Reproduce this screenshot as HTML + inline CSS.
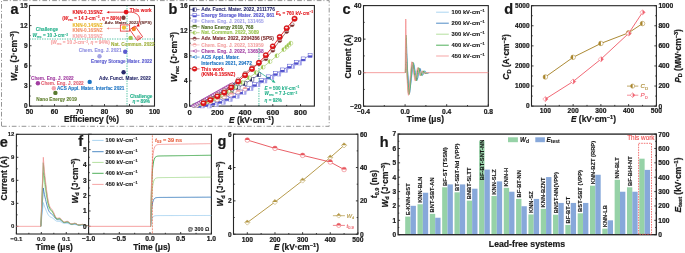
<!DOCTYPE html>
<html><head><meta charset="utf-8"><style>
html,body{margin:0;padding:0;background:#fff;width:685px;height:253px;overflow:hidden}
svg{display:block;will-change:transform}
text{font-family:"Liberation Sans",sans-serif}
</style></head><body>
<svg xmlns="http://www.w3.org/2000/svg" width="685" height="253" viewBox="0 0 685 253" font-family="Liberation Sans, sans-serif">
<rect width="685" height="253" fill="#ffffff"/>
<polyline points="1.5,126.3 1.5,0.6 329.2,0.6 329.2,126.3 1.5,126.3" fill="none" stroke="#7a7a7a" stroke-width="0.8" stroke-linejoin="round" stroke-dasharray="4.7 1.9 1 2.2"/>
<text x="10.6" y="13.6" font-size="14.5" text-anchor="start" font-weight="bold" fill="#1a1a1a" stroke="#1a1a1a" stroke-width="0.22">a</text>
<text x="168.5" y="14.2" font-size="14.5" text-anchor="start" font-weight="bold" fill="#1a1a1a" stroke="#1a1a1a" stroke-width="0.22">b</text>
<text x="342.6" y="14.1" font-size="14.5" text-anchor="start" font-weight="bold" fill="#1a1a1a" stroke="#1a1a1a" stroke-width="0.22">c</text>
<text x="504.3" y="14.1" font-size="14.5" text-anchor="start" font-weight="bold" fill="#1a1a1a" stroke="#1a1a1a" stroke-width="0.22">d</text>
<text x="-0.3" y="147.2" font-size="14.5" text-anchor="start" font-weight="bold" fill="#1a1a1a" stroke="#1a1a1a" stroke-width="0.22">e</text>
<text x="78.2" y="145.8" font-size="14.5" text-anchor="start" font-weight="bold" fill="#1a1a1a" stroke="#1a1a1a" stroke-width="0.22">f</text>
<text x="217.6" y="145.8" font-size="14.5" text-anchor="start" font-weight="bold" fill="#1a1a1a" stroke="#1a1a1a" stroke-width="0.22">g</text>
<text x="379.8" y="146.8" font-size="14.5" text-anchor="start" font-weight="bold" fill="#1a1a1a" stroke="#1a1a1a" stroke-width="0.22">h</text>
<line x1="29.5" y1="39.03" x2="154.5" y2="39.03" stroke="#22b08a" stroke-width="0.75" stroke-dasharray="1.4 1.1"/>
<line x1="127" y1="5.5" x2="127" y2="106.1" stroke="#22b08a" stroke-width="0.75" stroke-dasharray="1.4 1.1"/>
<rect x="29.5" y="5.5" width="125" height="100.6" fill="none" stroke="#262626" stroke-width="1.1"/>
<line x1="29.5" y1="106.1" x2="29.5" y2="104.1" stroke="#262626" stroke-width="0.9"/>
<line x1="54.5" y1="106.1" x2="54.5" y2="104.1" stroke="#262626" stroke-width="0.9"/>
<line x1="79.5" y1="106.1" x2="79.5" y2="104.1" stroke="#262626" stroke-width="0.9"/>
<line x1="104.5" y1="106.1" x2="104.5" y2="104.1" stroke="#262626" stroke-width="0.9"/>
<line x1="129.5" y1="106.1" x2="129.5" y2="104.1" stroke="#262626" stroke-width="0.9"/>
<line x1="154.5" y1="106.1" x2="154.5" y2="104.1" stroke="#262626" stroke-width="0.9"/>
<line x1="42" y1="106.1" x2="42" y2="104.9" stroke="#262626" stroke-width="0.9"/>
<line x1="67" y1="106.1" x2="67" y2="104.9" stroke="#262626" stroke-width="0.9"/>
<line x1="92" y1="106.1" x2="92" y2="104.9" stroke="#262626" stroke-width="0.9"/>
<line x1="117" y1="106.1" x2="117" y2="104.9" stroke="#262626" stroke-width="0.9"/>
<line x1="142" y1="106.1" x2="142" y2="104.9" stroke="#262626" stroke-width="0.9"/>
<text x="29.5" y="113.5" font-size="6.7" text-anchor="middle" font-weight="bold" fill="#1a1a1a" stroke="#1a1a1a" stroke-width="0.22">50</text>
<text x="54.5" y="113.5" font-size="6.7" text-anchor="middle" font-weight="bold" fill="#1a1a1a" stroke="#1a1a1a" stroke-width="0.22">60</text>
<text x="79.5" y="113.5" font-size="6.7" text-anchor="middle" font-weight="bold" fill="#1a1a1a" stroke="#1a1a1a" stroke-width="0.22">70</text>
<text x="104.5" y="113.5" font-size="6.7" text-anchor="middle" font-weight="bold" fill="#1a1a1a" stroke="#1a1a1a" stroke-width="0.22">80</text>
<text x="129.5" y="113.5" font-size="6.7" text-anchor="middle" font-weight="bold" fill="#1a1a1a" stroke="#1a1a1a" stroke-width="0.22">90</text>
<text x="154.5" y="113.5" font-size="6.7" text-anchor="middle" font-weight="bold" fill="#1a1a1a" stroke="#1a1a1a" stroke-width="0.22">100</text>
<line x1="29.5" y1="106.1" x2="31.5" y2="106.1" stroke="#262626" stroke-width="0.9"/>
<line x1="29.5" y1="85.98" x2="31.5" y2="85.98" stroke="#262626" stroke-width="0.9"/>
<line x1="29.5" y1="65.86" x2="31.5" y2="65.86" stroke="#262626" stroke-width="0.9"/>
<line x1="29.5" y1="45.74" x2="31.5" y2="45.74" stroke="#262626" stroke-width="0.9"/>
<line x1="29.5" y1="25.62" x2="31.5" y2="25.62" stroke="#262626" stroke-width="0.9"/>
<line x1="29.5" y1="5.5" x2="31.5" y2="5.5" stroke="#262626" stroke-width="0.9"/>
<line x1="29.5" y1="96.04" x2="30.7" y2="96.04" stroke="#262626" stroke-width="0.9"/>
<line x1="29.5" y1="75.92" x2="30.7" y2="75.92" stroke="#262626" stroke-width="0.9"/>
<line x1="29.5" y1="55.8" x2="30.7" y2="55.8" stroke="#262626" stroke-width="0.9"/>
<line x1="29.5" y1="35.68" x2="30.7" y2="35.68" stroke="#262626" stroke-width="0.9"/>
<line x1="29.5" y1="15.56" x2="30.7" y2="15.56" stroke="#262626" stroke-width="0.9"/>
<text x="27.5" y="108.44" font-size="6.5" text-anchor="end" font-weight="bold" fill="#1a1a1a" stroke="#1a1a1a" stroke-width="0.22">0</text>
<text x="27.5" y="88.32" font-size="6.5" text-anchor="end" font-weight="bold" fill="#1a1a1a" stroke="#1a1a1a" stroke-width="0.22">3</text>
<text x="27.5" y="68.2" font-size="6.5" text-anchor="end" font-weight="bold" fill="#1a1a1a" stroke="#1a1a1a" stroke-width="0.22">6</text>
<text x="27.5" y="48.08" font-size="6.5" text-anchor="end" font-weight="bold" fill="#1a1a1a" stroke="#1a1a1a" stroke-width="0.22">9</text>
<text x="27.5" y="27.96" font-size="6.5" text-anchor="end" font-weight="bold" fill="#1a1a1a" stroke="#1a1a1a" stroke-width="0.22">12</text>
<text x="27.5" y="7.84" font-size="6.5" text-anchor="end" font-weight="bold" fill="#1a1a1a" stroke="#1a1a1a" stroke-width="0.22">15</text>
<text x="91.5" y="121.7" font-size="8.4" text-anchor="middle" font-weight="bold" fill="#1a1a1a" stroke="#1a1a1a" stroke-width="0.22">Efficiency (%)</text>
<text x="16.5" y="56" font-size="8.4" font-weight="bold" fill="#1a1a1a" text-anchor="middle" transform="rotate(-90 16.5 56)" stroke="#1a1a1a" stroke-width="0.22"><tspan font-style="italic">W</tspan><tspan font-size="5.6" dy="1.6">rec</tspan><tspan dy="-1.6"> (J·cm</tspan><tspan font-size="5.6" dy="-3">−3</tspan><tspan dy="3">)</tspan></text>
<circle cx="126.1" cy="12.1" r="2.4" fill="#e3161b" stroke="none" stroke-width="0.5"/>
<circle cx="123.5" cy="17.8" r="2.2" fill="#7b3f3a" stroke="none" stroke-width="0.5"/>
<circle cx="124" cy="27.6" r="2.2" fill="#f1c232" stroke="none" stroke-width="0.5"/>
<circle cx="133.8" cy="29" r="2.2" fill="#f5841f" stroke="none" stroke-width="0.5"/>
<circle cx="130.6" cy="37.9" r="2.2" fill="#9bc54f" stroke="none" stroke-width="0.5"/>
<circle cx="138.6" cy="37.4" r="2.2" fill="#f4a4a4" stroke="none" stroke-width="0.5"/>
<circle cx="125.2" cy="51.8" r="2.2" fill="#5b5bd0" stroke="none" stroke-width="0.5"/>
<circle cx="99.5" cy="56.3" r="2.2" fill="#a3a3e6" stroke="none" stroke-width="0.5"/>
<circle cx="123.6" cy="72.2" r="2.2" fill="#27296b" stroke="none" stroke-width="0.5"/>
<circle cx="89.7" cy="81.9" r="2.2" fill="#1a72c2" stroke="none" stroke-width="0.5"/>
<circle cx="37.9" cy="83.2" r="2.2" fill="#a23ea2" stroke="none" stroke-width="0.5"/>
<circle cx="53.8" cy="88.2" r="2.2" fill="#f4a3ad" stroke="none" stroke-width="0.5"/>
<circle cx="55.4" cy="92.9" r="2.2" fill="#587a2f" stroke="none" stroke-width="0.5"/>
<rect x="120.3" y="24.9" width="9.4" height="6.2" fill="none" stroke="#e3161b" stroke-width="0.7"/>
<rect x="-3.2" y="-6.6" width="6.4" height="13.2" fill="none" stroke="#e3161b" stroke-width="0.7" transform="translate(136.2 33.2) rotate(-35)"/>
<path d="M127.5 12.2 C 140 11, 142 20, 137.5 25.5" fill="none" stroke="#e3161b" stroke-width="0.8"/>
<path d="M136 26.5 L138.9 23.6 L139.6 26.6 Z" fill="#e3161b"/>
<line x1="124" y1="12.2" x2="108.5" y2="12.2" stroke="#e3161b" stroke-width="0.7"/>
<path d="M106.5 12.2 L109.2 10.9 L109.2 13.5 Z" fill="#e3161b"/>
<line x1="120.3" y1="28.4" x2="108.5" y2="28.4" stroke="#f08a8a" stroke-width="0.6"/>
<path d="M106.5 28.4 L109 27.3 L109 29.5 Z" fill="#f08a8a"/>
<text x="129.8" y="11.6" font-size="4.7" text-anchor="start" font-weight="bold" fill="#e3161b" stroke="#e3161b" stroke-width="0.08">This work</text>
<text x="72.4" y="13.9" font-size="4.7" text-anchor="start" font-weight="bold" fill="#e3161b" stroke="#e3161b" stroke-width="0.08">KNN-0.15SNZ</text>
<text x="62.2" y="19.6" font-size="4.7" font-weight="bold" fill="#e3161b" stroke="#e3161b" stroke-width="0.08">(<tspan font-style="italic">W</tspan><tspan font-size="3.2" dy="1">rec</tspan><tspan dy="-1"> = 14 J·cm</tspan><tspan font-size="3.2" dy="-1.7">−3</tspan><tspan dy="1.7">, </tspan><tspan font-style="italic">η</tspan> = 89%)</text>
<text x="104.6" y="24.3" font-size="4.4" text-anchor="start" font-weight="bold" fill="#6b2e2a" stroke="#6b2e2a" stroke-width="0.08">Adv. Mater. 2022 (SPS)</text>
<text x="72.4" y="26.9" font-size="4.7" text-anchor="start" font-weight="bold" fill="#e8b72c" stroke="#e8b72c" stroke-width="0.08">KNN-0.14SNZ</text>
<text x="72.4" y="32.3" font-size="4.7" text-anchor="start" font-weight="bold" fill="#f3906a" stroke="#f3906a" stroke-width="0.08">KNN-0.16SNZ</text>
<text x="72.4" y="37.7" font-size="4.7" text-anchor="start" font-weight="bold" fill="#f4a9a9" stroke="#f4a9a9" stroke-width="0.08">KNN-0.18SNZ</text>
<text x="47" y="31.2" font-size="4.7" text-anchor="middle" font-weight="bold" fill="#22b08a" stroke="#22b08a" stroke-width="0.08">Challenge</text>
<text x="32.4" y="37.3" font-size="4.7" font-weight="bold" fill="#22b08a" stroke="#22b08a" stroke-width="0.08"><tspan font-style="italic">W</tspan><tspan font-size="3.2" dy="1">rec</tspan><tspan dy="-1"> = 10 J·cm</tspan><tspan font-size="3.2" dy="-1.7">−3</tspan></text>
<text x="50.7" y="44.3" font-size="4.7" font-weight="bold" fill="#f6a0a0" stroke="#f6a0a0" stroke-width="0.08">(<tspan font-style="italic">W</tspan><tspan font-size="3.2" dy="1">rec</tspan><tspan dy="-1"> = 10 J·cm</tspan><tspan font-size="3.2" dy="-1.7">−3</tspan><tspan dy="1.7">, </tspan><tspan font-style="italic">η</tspan> = 94%)</text>
<text x="111" y="46" font-size="4.7" text-anchor="start" font-weight="bold" fill="#9fb03a" stroke="#9fb03a" stroke-width="0.08">Nat. Commun. 2022</text>
<text x="78.8" y="52.2" font-size="4.7" text-anchor="start" font-weight="bold" fill="#8e8ee0" stroke="#8e8ee0" stroke-width="0.08">Chem. Eng. J. 2021</text>
<text x="91" y="62.5" font-size="4.7" text-anchor="start" font-weight="bold" fill="#5b5bd0" stroke="#5b5bd0" stroke-width="0.08">Energy Storage Mater. 2022</text>
<text x="99" y="79.8" font-size="4.7" text-anchor="start" font-weight="bold" fill="#27296b" stroke="#27296b" stroke-width="0.08">Adv. Funct. Mater. 2022</text>
<text x="31" y="79.8" font-size="4.7" text-anchor="start" font-weight="bold" fill="#a23ea2" stroke="#a23ea2" stroke-width="0.08">Chem. Eng. J. 2022</text>
<text x="41" y="84.6" font-size="4.7" text-anchor="start" font-weight="bold" fill="#e26070" stroke="#e26070" stroke-width="0.08">Chem. Eng. J. 2022</text>
<text x="56.9" y="89.8" font-size="4.7" text-anchor="start" font-weight="bold" fill="#1a72c2" stroke="#1a72c2" stroke-width="0.08">ACS Appl. Mater. Interfac 2021</text>
<text x="36.3" y="100.8" font-size="4.7" text-anchor="start" font-weight="bold" fill="#5e7f2c" stroke="#5e7f2c" stroke-width="0.08">Nano Energy 2019</text>
<text x="141.2" y="97.5" font-size="4.7" text-anchor="middle" font-weight="bold" fill="#22b08a" stroke="#22b08a" stroke-width="0.08">Challenge</text>
<text x="141.2" y="102.8" font-size="4.7" font-weight="bold" fill="#22b08a" text-anchor="middle" stroke="#22b08a" stroke-width="0.08"><tspan font-style="italic">η</tspan> = 89%</text>
<rect x="189.6" y="5.5" width="124.8" height="100.6" fill="none" stroke="#262626" stroke-width="1.1"/>
<line x1="189.6" y1="106.1" x2="189.6" y2="104.1" stroke="#262626" stroke-width="0.9"/>
<line x1="217.33" y1="106.1" x2="217.33" y2="104.1" stroke="#262626" stroke-width="0.9"/>
<line x1="245.07" y1="106.1" x2="245.07" y2="104.1" stroke="#262626" stroke-width="0.9"/>
<line x1="272.8" y1="106.1" x2="272.8" y2="104.1" stroke="#262626" stroke-width="0.9"/>
<line x1="300.53" y1="106.1" x2="300.53" y2="104.1" stroke="#262626" stroke-width="0.9"/>
<line x1="203.47" y1="106.1" x2="203.47" y2="104.9" stroke="#262626" stroke-width="0.9"/>
<line x1="231.2" y1="106.1" x2="231.2" y2="104.9" stroke="#262626" stroke-width="0.9"/>
<line x1="258.93" y1="106.1" x2="258.93" y2="104.9" stroke="#262626" stroke-width="0.9"/>
<line x1="286.67" y1="106.1" x2="286.67" y2="104.9" stroke="#262626" stroke-width="0.9"/>
<text x="189.6" y="115.1" font-size="7.7" text-anchor="middle" font-weight="bold" fill="#1a1a1a" stroke="#1a1a1a" stroke-width="0.22">0</text>
<text x="217.33" y="115.1" font-size="7.7" text-anchor="middle" font-weight="bold" fill="#1a1a1a" stroke="#1a1a1a" stroke-width="0.22">200</text>
<text x="245.07" y="115.1" font-size="7.7" text-anchor="middle" font-weight="bold" fill="#1a1a1a" stroke="#1a1a1a" stroke-width="0.22">400</text>
<text x="272.8" y="115.1" font-size="7.7" text-anchor="middle" font-weight="bold" fill="#1a1a1a" stroke="#1a1a1a" stroke-width="0.22">600</text>
<text x="300.53" y="115.1" font-size="7.7" text-anchor="middle" font-weight="bold" fill="#1a1a1a" stroke="#1a1a1a" stroke-width="0.22">800</text>
<line x1="189.6" y1="106.1" x2="191.6" y2="106.1" stroke="#262626" stroke-width="0.9"/>
<line x1="189.6" y1="80.95" x2="191.6" y2="80.95" stroke="#262626" stroke-width="0.9"/>
<line x1="189.6" y1="55.8" x2="191.6" y2="55.8" stroke="#262626" stroke-width="0.9"/>
<line x1="189.6" y1="30.65" x2="191.6" y2="30.65" stroke="#262626" stroke-width="0.9"/>
<line x1="189.6" y1="5.5" x2="191.6" y2="5.5" stroke="#262626" stroke-width="0.9"/>
<line x1="189.6" y1="93.52" x2="190.8" y2="93.52" stroke="#262626" stroke-width="0.9"/>
<line x1="189.6" y1="68.38" x2="190.8" y2="68.38" stroke="#262626" stroke-width="0.9"/>
<line x1="189.6" y1="43.22" x2="190.8" y2="43.22" stroke="#262626" stroke-width="0.9"/>
<line x1="189.6" y1="18.08" x2="190.8" y2="18.08" stroke="#262626" stroke-width="0.9"/>
<text x="187.6" y="108.44" font-size="6.5" text-anchor="end" font-weight="bold" fill="#1a1a1a" stroke="#1a1a1a" stroke-width="0.22">0</text>
<text x="187.6" y="83.29" font-size="6.5" text-anchor="end" font-weight="bold" fill="#1a1a1a" stroke="#1a1a1a" stroke-width="0.22">4</text>
<text x="187.6" y="58.14" font-size="6.5" text-anchor="end" font-weight="bold" fill="#1a1a1a" stroke="#1a1a1a" stroke-width="0.22">8</text>
<text x="187.6" y="32.99" font-size="6.5" text-anchor="end" font-weight="bold" fill="#1a1a1a" stroke="#1a1a1a" stroke-width="0.22">12</text>
<text x="187.6" y="7.84" font-size="6.5" text-anchor="end" font-weight="bold" fill="#1a1a1a" stroke="#1a1a1a" stroke-width="0.22">16</text>
<text x="251.5" y="122.6" font-size="8.4" font-weight="bold" fill="#1a1a1a" text-anchor="middle" stroke="#1a1a1a" stroke-width="0.22"><tspan font-style="italic">E</tspan> (kV·cm<tspan font-size="5.6" dy="-3">−1</tspan><tspan dy="3">)</tspan></text>
<text x="177.3" y="57" font-size="8.4" font-weight="bold" fill="#1a1a1a" text-anchor="middle" transform="rotate(-90 177.3 57)" stroke="#1a1a1a" stroke-width="0.22"><tspan font-style="italic">W</tspan><tspan font-size="5.6" dy="1.6">rec</tspan><tspan dy="-1.6"> (J·cm</tspan><tspan font-size="5.6" dy="-3">−3</tspan><tspan dy="3">)</tspan></text>
<line x1="258.93" y1="48" x2="258.93" y2="106.1" stroke="#22b08a" stroke-width="0.8" stroke-dasharray="1.4 1.1"/>
<polyline points="196.53,105.11 203.47,103.29 210.4,100.93 217.33,98.15 224.27,94.99 231.2,91.49 238.13,87.69 245.07,83.61 252,79.26 258.93,74.66" fill="none" stroke="#27296b" stroke-width="0.6" stroke-linejoin="round"/>
<rect x="194.63" y="103.21" width="3.8" height="3.8" fill="#ffffff" stroke="#27296b" stroke-width="0.5"/>
<rect x="194.63" y="103.21" width="1.9" height="3.8" fill="#27296b" stroke="none" stroke-width="0.8"/>
<rect x="201.57" y="101.39" width="3.8" height="3.8" fill="#ffffff" stroke="#27296b" stroke-width="0.5"/>
<rect x="201.57" y="101.39" width="1.9" height="3.8" fill="#27296b" stroke="none" stroke-width="0.8"/>
<rect x="208.5" y="99.03" width="3.8" height="3.8" fill="#ffffff" stroke="#27296b" stroke-width="0.5"/>
<rect x="208.5" y="99.03" width="1.9" height="3.8" fill="#27296b" stroke="none" stroke-width="0.8"/>
<rect x="215.43" y="96.25" width="3.8" height="3.8" fill="#ffffff" stroke="#27296b" stroke-width="0.5"/>
<rect x="215.43" y="96.25" width="1.9" height="3.8" fill="#27296b" stroke="none" stroke-width="0.8"/>
<rect x="222.37" y="93.09" width="3.8" height="3.8" fill="#ffffff" stroke="#27296b" stroke-width="0.5"/>
<rect x="222.37" y="93.09" width="1.9" height="3.8" fill="#27296b" stroke="none" stroke-width="0.8"/>
<rect x="229.3" y="89.59" width="3.8" height="3.8" fill="#ffffff" stroke="#27296b" stroke-width="0.5"/>
<rect x="229.3" y="89.59" width="1.9" height="3.8" fill="#27296b" stroke="none" stroke-width="0.8"/>
<rect x="236.23" y="85.79" width="3.8" height="3.8" fill="#ffffff" stroke="#27296b" stroke-width="0.5"/>
<rect x="236.23" y="85.79" width="1.9" height="3.8" fill="#27296b" stroke="none" stroke-width="0.8"/>
<rect x="243.17" y="81.71" width="3.8" height="3.8" fill="#ffffff" stroke="#27296b" stroke-width="0.5"/>
<rect x="243.17" y="81.71" width="1.9" height="3.8" fill="#27296b" stroke="none" stroke-width="0.8"/>
<rect x="250.1" y="77.36" width="3.8" height="3.8" fill="#ffffff" stroke="#27296b" stroke-width="0.5"/>
<rect x="250.1" y="77.36" width="1.9" height="3.8" fill="#27296b" stroke="none" stroke-width="0.8"/>
<rect x="257.03" y="72.76" width="3.8" height="3.8" fill="#ffffff" stroke="#27296b" stroke-width="0.5"/>
<rect x="257.03" y="72.76" width="1.9" height="3.8" fill="#27296b" stroke="none" stroke-width="0.8"/>
<polyline points="202.63,106.1 209.57,106.1 216.5,104.59 223.43,102.39 230.37,99.66 237.3,96.35 244.23,92.58 251.17,88.81 258.1,84.88 265.03,81.11 271.97,77.65 278.9,74.19 285.83,70.58 292.77,66.8 299.7,63.19" fill="none" stroke="#a3a3ea" stroke-width="0.6" stroke-linejoin="round"/>
<rect x="200.73" y="104.2" width="3.8" height="3.8" fill="#ffffff" stroke="#a3a3ea" stroke-width="0.5"/>
<rect x="202.63" y="104.2" width="1.9" height="3.8" fill="#a3a3ea" stroke="none" stroke-width="0.8"/>
<rect x="207.67" y="104.2" width="3.8" height="3.8" fill="#ffffff" stroke="#a3a3ea" stroke-width="0.5"/>
<rect x="209.57" y="104.2" width="1.9" height="3.8" fill="#a3a3ea" stroke="none" stroke-width="0.8"/>
<rect x="214.6" y="102.69" width="3.8" height="3.8" fill="#ffffff" stroke="#a3a3ea" stroke-width="0.5"/>
<rect x="216.5" y="102.69" width="1.9" height="3.8" fill="#a3a3ea" stroke="none" stroke-width="0.8"/>
<rect x="221.53" y="100.49" width="3.8" height="3.8" fill="#ffffff" stroke="#a3a3ea" stroke-width="0.5"/>
<rect x="223.43" y="100.49" width="1.9" height="3.8" fill="#a3a3ea" stroke="none" stroke-width="0.8"/>
<rect x="228.47" y="97.76" width="3.8" height="3.8" fill="#ffffff" stroke="#a3a3ea" stroke-width="0.5"/>
<rect x="230.37" y="97.76" width="1.9" height="3.8" fill="#a3a3ea" stroke="none" stroke-width="0.8"/>
<rect x="235.4" y="94.45" width="3.8" height="3.8" fill="#ffffff" stroke="#a3a3ea" stroke-width="0.5"/>
<rect x="237.3" y="94.45" width="1.9" height="3.8" fill="#a3a3ea" stroke="none" stroke-width="0.8"/>
<rect x="242.33" y="90.68" width="3.8" height="3.8" fill="#ffffff" stroke="#a3a3ea" stroke-width="0.5"/>
<rect x="244.23" y="90.68" width="1.9" height="3.8" fill="#a3a3ea" stroke="none" stroke-width="0.8"/>
<rect x="249.27" y="86.91" width="3.8" height="3.8" fill="#ffffff" stroke="#a3a3ea" stroke-width="0.5"/>
<rect x="251.17" y="86.91" width="1.9" height="3.8" fill="#a3a3ea" stroke="none" stroke-width="0.8"/>
<rect x="256.2" y="82.98" width="3.8" height="3.8" fill="#ffffff" stroke="#a3a3ea" stroke-width="0.5"/>
<rect x="258.1" y="82.98" width="1.9" height="3.8" fill="#a3a3ea" stroke="none" stroke-width="0.8"/>
<rect x="263.13" y="79.21" width="3.8" height="3.8" fill="#ffffff" stroke="#a3a3ea" stroke-width="0.5"/>
<rect x="265.03" y="79.21" width="1.9" height="3.8" fill="#a3a3ea" stroke="none" stroke-width="0.8"/>
<rect x="270.07" y="75.75" width="3.8" height="3.8" fill="#ffffff" stroke="#a3a3ea" stroke-width="0.5"/>
<rect x="271.97" y="75.75" width="1.9" height="3.8" fill="#a3a3ea" stroke="none" stroke-width="0.8"/>
<rect x="277" y="72.29" width="3.8" height="3.8" fill="#ffffff" stroke="#a3a3ea" stroke-width="0.5"/>
<rect x="278.9" y="72.29" width="1.9" height="3.8" fill="#a3a3ea" stroke="none" stroke-width="0.8"/>
<rect x="283.93" y="68.68" width="3.8" height="3.8" fill="#ffffff" stroke="#a3a3ea" stroke-width="0.5"/>
<rect x="285.83" y="68.68" width="1.9" height="3.8" fill="#a3a3ea" stroke="none" stroke-width="0.8"/>
<rect x="290.87" y="64.9" width="3.8" height="3.8" fill="#ffffff" stroke="#a3a3ea" stroke-width="0.5"/>
<rect x="292.77" y="64.9" width="1.9" height="3.8" fill="#a3a3ea" stroke="none" stroke-width="0.8"/>
<rect x="297.8" y="61.29" width="3.8" height="3.8" fill="#ffffff" stroke="#a3a3ea" stroke-width="0.5"/>
<rect x="299.7" y="61.29" width="1.9" height="3.8" fill="#a3a3ea" stroke="none" stroke-width="0.8"/>
<polyline points="199.17,105.47 206.1,104.34 213.03,102.96 219.97,101.2 226.9,98.55 233.83,95.73 240.77,91.95 247.7,88.18 254.63,84.41 261.57,80.32 268.5,76.86 275.43,73.41 282.37,69.95 289.3,66.17 296.23,62.4 303.17,58.94 310.1,55.36" fill="none" stroke="#5050cc" stroke-width="0.6" stroke-linejoin="round"/>
<rect x="197.17" y="103.47" width="4" height="4" fill="#ffffff" stroke="#5050cc" stroke-width="0.5"/>
<rect x="197.17" y="105.47" width="4" height="2" fill="#5050cc" stroke="none" stroke-width="0.8"/>
<rect x="204.1" y="102.34" width="4" height="4" fill="#ffffff" stroke="#5050cc" stroke-width="0.5"/>
<rect x="204.1" y="104.34" width="4" height="2" fill="#5050cc" stroke="none" stroke-width="0.8"/>
<rect x="211.03" y="100.96" width="4" height="4" fill="#ffffff" stroke="#5050cc" stroke-width="0.5"/>
<rect x="211.03" y="102.96" width="4" height="2" fill="#5050cc" stroke="none" stroke-width="0.8"/>
<rect x="217.97" y="99.2" width="4" height="4" fill="#ffffff" stroke="#5050cc" stroke-width="0.5"/>
<rect x="217.97" y="101.2" width="4" height="2" fill="#5050cc" stroke="none" stroke-width="0.8"/>
<rect x="224.9" y="96.55" width="4" height="4" fill="#ffffff" stroke="#5050cc" stroke-width="0.5"/>
<rect x="224.9" y="98.55" width="4" height="2" fill="#5050cc" stroke="none" stroke-width="0.8"/>
<rect x="231.83" y="93.73" width="4" height="4" fill="#ffffff" stroke="#5050cc" stroke-width="0.5"/>
<rect x="231.83" y="95.73" width="4" height="2" fill="#5050cc" stroke="none" stroke-width="0.8"/>
<rect x="238.77" y="89.95" width="4" height="4" fill="#ffffff" stroke="#5050cc" stroke-width="0.5"/>
<rect x="238.77" y="91.95" width="4" height="2" fill="#5050cc" stroke="none" stroke-width="0.8"/>
<rect x="245.7" y="86.18" width="4" height="4" fill="#ffffff" stroke="#5050cc" stroke-width="0.5"/>
<rect x="245.7" y="88.18" width="4" height="2" fill="#5050cc" stroke="none" stroke-width="0.8"/>
<rect x="252.63" y="82.41" width="4" height="4" fill="#ffffff" stroke="#5050cc" stroke-width="0.5"/>
<rect x="252.63" y="84.41" width="4" height="2" fill="#5050cc" stroke="none" stroke-width="0.8"/>
<rect x="259.57" y="78.32" width="4" height="4" fill="#ffffff" stroke="#5050cc" stroke-width="0.5"/>
<rect x="259.57" y="80.32" width="4" height="2" fill="#5050cc" stroke="none" stroke-width="0.8"/>
<rect x="266.5" y="74.86" width="4" height="4" fill="#ffffff" stroke="#5050cc" stroke-width="0.5"/>
<rect x="266.5" y="76.86" width="4" height="2" fill="#5050cc" stroke="none" stroke-width="0.8"/>
<rect x="273.43" y="71.41" width="4" height="4" fill="#ffffff" stroke="#5050cc" stroke-width="0.5"/>
<rect x="273.43" y="73.41" width="4" height="2" fill="#5050cc" stroke="none" stroke-width="0.8"/>
<rect x="280.37" y="67.95" width="4" height="4" fill="#ffffff" stroke="#5050cc" stroke-width="0.5"/>
<rect x="280.37" y="69.95" width="4" height="2" fill="#5050cc" stroke="none" stroke-width="0.8"/>
<rect x="287.3" y="64.17" width="4" height="4" fill="#ffffff" stroke="#5050cc" stroke-width="0.5"/>
<rect x="287.3" y="66.17" width="4" height="2" fill="#5050cc" stroke="none" stroke-width="0.8"/>
<rect x="294.23" y="60.4" width="4" height="4" fill="#ffffff" stroke="#5050cc" stroke-width="0.5"/>
<rect x="294.23" y="62.4" width="4" height="2" fill="#5050cc" stroke="none" stroke-width="0.8"/>
<rect x="301.17" y="56.94" width="4" height="4" fill="#ffffff" stroke="#5050cc" stroke-width="0.5"/>
<rect x="301.17" y="58.94" width="4" height="2" fill="#5050cc" stroke="none" stroke-width="0.8"/>
<rect x="308.1" y="53.36" width="4" height="4" fill="#ffffff" stroke="#5050cc" stroke-width="0.5"/>
<rect x="308.1" y="55.36" width="4" height="2" fill="#5050cc" stroke="none" stroke-width="0.8"/>
<polyline points="196.53,105.24 203.47,103.68 210.4,101.65 217.33,99.26 224.27,96.53 231.2,93.52" fill="none" stroke="#4d6b22" stroke-width="0.6" stroke-linejoin="round"/>
<rect x="194.83" y="103.54" width="3.4" height="3.4" fill="#ffffff" stroke="#4d6b22" stroke-width="0.5"/>
<rect x="194.83" y="103.54" width="3.4" height="1.7" fill="#4d6b22" stroke="none" stroke-width="0.8"/>
<rect x="201.77" y="101.98" width="3.4" height="3.4" fill="#ffffff" stroke="#4d6b22" stroke-width="0.5"/>
<rect x="201.77" y="101.98" width="3.4" height="1.7" fill="#4d6b22" stroke="none" stroke-width="0.8"/>
<rect x="208.7" y="99.95" width="3.4" height="3.4" fill="#ffffff" stroke="#4d6b22" stroke-width="0.5"/>
<rect x="208.7" y="99.95" width="3.4" height="1.7" fill="#4d6b22" stroke="none" stroke-width="0.8"/>
<rect x="215.63" y="97.56" width="3.4" height="3.4" fill="#ffffff" stroke="#4d6b22" stroke-width="0.5"/>
<rect x="215.63" y="97.56" width="3.4" height="1.7" fill="#4d6b22" stroke="none" stroke-width="0.8"/>
<rect x="222.57" y="94.83" width="3.4" height="3.4" fill="#ffffff" stroke="#4d6b22" stroke-width="0.5"/>
<rect x="222.57" y="94.83" width="3.4" height="1.7" fill="#4d6b22" stroke="none" stroke-width="0.8"/>
<rect x="229.5" y="91.82" width="3.4" height="3.4" fill="#ffffff" stroke="#4d6b22" stroke-width="0.5"/>
<rect x="229.5" y="91.82" width="3.4" height="1.7" fill="#4d6b22" stroke="none" stroke-width="0.8"/>
<polyline points="196.53,105.35 203.47,103.9 210.4,101.82 217.33,99.56 224.27,96.73 231.2,94.53 238.13,91.76 245.07,89" fill="none" stroke="#f3a3a3" stroke-width="0.6" stroke-linejoin="round"/>
<circle cx="196.53" cy="105.35" r="2.1" fill="#ffffff" stroke="#f3a3a3" stroke-width="0.5"/>
<path d="M194.43 105.35 A2.1 2.1 0 0 1 198.63 105.35 Z" fill="#f3a3a3"/>
<circle cx="203.47" cy="103.9" r="2.1" fill="#ffffff" stroke="#f3a3a3" stroke-width="0.5"/>
<path d="M201.37 103.9 A2.1 2.1 0 0 1 205.57 103.9 Z" fill="#f3a3a3"/>
<circle cx="210.4" cy="101.82" r="2.1" fill="#ffffff" stroke="#f3a3a3" stroke-width="0.5"/>
<path d="M208.3 101.82 A2.1 2.1 0 0 1 212.5 101.82 Z" fill="#f3a3a3"/>
<circle cx="217.33" cy="99.56" r="2.1" fill="#ffffff" stroke="#f3a3a3" stroke-width="0.5"/>
<path d="M215.23 99.56 A2.1 2.1 0 0 1 219.43 99.56 Z" fill="#f3a3a3"/>
<circle cx="224.27" cy="96.73" r="2.1" fill="#ffffff" stroke="#f3a3a3" stroke-width="0.5"/>
<path d="M222.17 96.73 A2.1 2.1 0 0 1 226.37 96.73 Z" fill="#f3a3a3"/>
<circle cx="231.2" cy="94.53" r="2.1" fill="#ffffff" stroke="#f3a3a3" stroke-width="0.5"/>
<path d="M229.1 94.53 A2.1 2.1 0 0 1 233.3 94.53 Z" fill="#f3a3a3"/>
<circle cx="238.13" cy="91.76" r="2.1" fill="#ffffff" stroke="#f3a3a3" stroke-width="0.5"/>
<path d="M236.03 91.76 A2.1 2.1 0 0 1 240.23 91.76 Z" fill="#f3a3a3"/>
<circle cx="245.07" cy="89" r="2.1" fill="#ffffff" stroke="#f3a3a3" stroke-width="0.5"/>
<path d="M242.97 89 A2.1 2.1 0 0 1 247.17 89 Z" fill="#f3a3a3"/>
<polyline points="193.76,105.58 200.69,103.82 207.63,101.37 214.56,98.4 221.49,94.98 228.43,91.16 235.36,86.99 242.29,82.49 249.23,77.68 256.16,72.58 263.09,67.2 270.03,61.57 276.96,55.69 283.89,49.57 286.67,47.06 288.75,45.15 290.83,43.22" fill="none" stroke="#9bc54f" stroke-width="0.6" stroke-linejoin="round"/>
<circle cx="193.76" cy="105.58" r="2.0" fill="#ffffff" stroke="#9bc54f" stroke-width="0.5"/>
<path d="M193.76 103.58 A2.0 2.0 0 0 0 193.76 107.58 Z" fill="#9bc54f"/>
<circle cx="200.69" cy="103.82" r="2.0" fill="#ffffff" stroke="#9bc54f" stroke-width="0.5"/>
<path d="M200.69 101.82 A2.0 2.0 0 0 0 200.69 105.82 Z" fill="#9bc54f"/>
<circle cx="207.63" cy="101.37" r="2.0" fill="#ffffff" stroke="#9bc54f" stroke-width="0.5"/>
<path d="M207.63 99.37 A2.0 2.0 0 0 0 207.63 103.37 Z" fill="#9bc54f"/>
<circle cx="214.56" cy="98.4" r="2.0" fill="#ffffff" stroke="#9bc54f" stroke-width="0.5"/>
<path d="M214.56 96.4 A2.0 2.0 0 0 0 214.56 100.4 Z" fill="#9bc54f"/>
<circle cx="221.49" cy="94.98" r="2.0" fill="#ffffff" stroke="#9bc54f" stroke-width="0.5"/>
<path d="M221.49 92.98 A2.0 2.0 0 0 0 221.49 96.98 Z" fill="#9bc54f"/>
<circle cx="228.43" cy="91.16" r="2.0" fill="#ffffff" stroke="#9bc54f" stroke-width="0.5"/>
<path d="M228.43 89.16 A2.0 2.0 0 0 0 228.43 93.16 Z" fill="#9bc54f"/>
<circle cx="235.36" cy="86.99" r="2.0" fill="#ffffff" stroke="#9bc54f" stroke-width="0.5"/>
<path d="M235.36 84.99 A2.0 2.0 0 0 0 235.36 88.99 Z" fill="#9bc54f"/>
<circle cx="242.29" cy="82.49" r="2.0" fill="#ffffff" stroke="#9bc54f" stroke-width="0.5"/>
<path d="M242.29 80.49 A2.0 2.0 0 0 0 242.29 84.49 Z" fill="#9bc54f"/>
<circle cx="249.23" cy="77.68" r="2.0" fill="#ffffff" stroke="#9bc54f" stroke-width="0.5"/>
<path d="M249.23 75.68 A2.0 2.0 0 0 0 249.23 79.68 Z" fill="#9bc54f"/>
<circle cx="256.16" cy="72.58" r="2.0" fill="#ffffff" stroke="#9bc54f" stroke-width="0.5"/>
<path d="M256.16 70.58 A2.0 2.0 0 0 0 256.16 74.58 Z" fill="#9bc54f"/>
<circle cx="263.09" cy="67.2" r="2.0" fill="#ffffff" stroke="#9bc54f" stroke-width="0.5"/>
<path d="M263.09 65.2 A2.0 2.0 0 0 0 263.09 69.2 Z" fill="#9bc54f"/>
<circle cx="270.03" cy="61.57" r="2.0" fill="#ffffff" stroke="#9bc54f" stroke-width="0.5"/>
<path d="M270.03 59.57 A2.0 2.0 0 0 0 270.03 63.57 Z" fill="#9bc54f"/>
<circle cx="276.96" cy="55.69" r="2.0" fill="#ffffff" stroke="#9bc54f" stroke-width="0.5"/>
<path d="M276.96 53.69 A2.0 2.0 0 0 0 276.96 57.69 Z" fill="#9bc54f"/>
<circle cx="283.89" cy="49.57" r="2.0" fill="#ffffff" stroke="#9bc54f" stroke-width="0.5"/>
<path d="M283.89 47.57 A2.0 2.0 0 0 0 283.89 51.57 Z" fill="#9bc54f"/>
<circle cx="286.67" cy="47.06" r="2.0" fill="#ffffff" stroke="#9bc54f" stroke-width="0.5"/>
<path d="M286.67 45.06 A2.0 2.0 0 0 0 286.67 49.06 Z" fill="#9bc54f"/>
<circle cx="288.75" cy="45.15" r="2.0" fill="#ffffff" stroke="#9bc54f" stroke-width="0.5"/>
<path d="M288.75 43.15 A2.0 2.0 0 0 0 288.75 47.15 Z" fill="#9bc54f"/>
<circle cx="290.83" cy="43.22" r="2.0" fill="#ffffff" stroke="#9bc54f" stroke-width="0.5"/>
<path d="M290.83 41.22 A2.0 2.0 0 0 0 290.83 45.22 Z" fill="#9bc54f"/>
<polyline points="192.37,105.74 194.87,104.45 197.37,103.15 199.86,101.86 202.36,100.57 204.85,99.27 207.35,97.98 209.85,96.69 212.34,95.39 214.84,94.1 217.33,92.81 219.83,91.51 222.33,90.22 224.82,88.93 227.32,87.63 229.81,86.34 232.31,85.05 234.81,83.75" fill="none" stroke="#1a72c2" stroke-width="0.6" stroke-linejoin="round"/>
<path d="M190.67 105.74 L194.07 104.04 L194.07 107.44 Z" fill="#ffffff" stroke="#1a72c2" stroke-width="0.5"/>
<path d="M190.67 105.74 L192.37 104.89 L192.37 106.59 Z" fill="#1a72c2"/>
<path d="M193.17 104.45 L196.57 102.75 L196.57 106.15 Z" fill="#ffffff" stroke="#1a72c2" stroke-width="0.5"/>
<path d="M193.17 104.45 L194.87 103.6 L194.87 105.3 Z" fill="#1a72c2"/>
<path d="M195.67 103.15 L199.07 101.45 L199.07 104.85 Z" fill="#ffffff" stroke="#1a72c2" stroke-width="0.5"/>
<path d="M195.67 103.15 L197.37 102.3 L197.37 104 Z" fill="#1a72c2"/>
<path d="M198.16 101.86 L201.56 100.16 L201.56 103.56 Z" fill="#ffffff" stroke="#1a72c2" stroke-width="0.5"/>
<path d="M198.16 101.86 L199.86 101.01 L199.86 102.71 Z" fill="#1a72c2"/>
<path d="M200.66 100.57 L204.06 98.87 L204.06 102.27 Z" fill="#ffffff" stroke="#1a72c2" stroke-width="0.5"/>
<path d="M200.66 100.57 L202.36 99.72 L202.36 101.42 Z" fill="#1a72c2"/>
<path d="M203.15 99.27 L206.55 97.57 L206.55 100.97 Z" fill="#ffffff" stroke="#1a72c2" stroke-width="0.5"/>
<path d="M203.15 99.27 L204.85 98.42 L204.85 100.12 Z" fill="#1a72c2"/>
<path d="M205.65 97.98 L209.05 96.28 L209.05 99.68 Z" fill="#ffffff" stroke="#1a72c2" stroke-width="0.5"/>
<path d="M205.65 97.98 L207.35 97.13 L207.35 98.83 Z" fill="#1a72c2"/>
<path d="M208.15 96.69 L211.55 94.99 L211.55 98.39 Z" fill="#ffffff" stroke="#1a72c2" stroke-width="0.5"/>
<path d="M208.15 96.69 L209.85 95.84 L209.85 97.54 Z" fill="#1a72c2"/>
<path d="M210.64 95.39 L214.04 93.69 L214.04 97.09 Z" fill="#ffffff" stroke="#1a72c2" stroke-width="0.5"/>
<path d="M210.64 95.39 L212.34 94.54 L212.34 96.24 Z" fill="#1a72c2"/>
<path d="M213.14 94.1 L216.54 92.4 L216.54 95.8 Z" fill="#ffffff" stroke="#1a72c2" stroke-width="0.5"/>
<path d="M213.14 94.1 L214.84 93.25 L214.84 94.95 Z" fill="#1a72c2"/>
<path d="M215.63 92.81 L219.03 91.11 L219.03 94.51 Z" fill="#ffffff" stroke="#1a72c2" stroke-width="0.5"/>
<path d="M215.63 92.81 L217.33 91.96 L217.33 93.66 Z" fill="#1a72c2"/>
<path d="M218.13 91.51 L221.53 89.81 L221.53 93.21 Z" fill="#ffffff" stroke="#1a72c2" stroke-width="0.5"/>
<path d="M218.13 91.51 L219.83 90.66 L219.83 92.36 Z" fill="#1a72c2"/>
<path d="M220.63 90.22 L224.03 88.52 L224.03 91.92 Z" fill="#ffffff" stroke="#1a72c2" stroke-width="0.5"/>
<path d="M220.63 90.22 L222.33 89.37 L222.33 91.07 Z" fill="#1a72c2"/>
<path d="M223.12 88.93 L226.52 87.23 L226.52 90.63 Z" fill="#ffffff" stroke="#1a72c2" stroke-width="0.5"/>
<path d="M223.12 88.93 L224.82 88.08 L224.82 89.78 Z" fill="#1a72c2"/>
<path d="M225.62 87.63 L229.02 85.93 L229.02 89.33 Z" fill="#ffffff" stroke="#1a72c2" stroke-width="0.5"/>
<path d="M225.62 87.63 L227.32 86.78 L227.32 88.48 Z" fill="#1a72c2"/>
<path d="M228.11 86.34 L231.51 84.64 L231.51 88.04 Z" fill="#ffffff" stroke="#1a72c2" stroke-width="0.5"/>
<path d="M228.11 86.34 L229.81 85.49 L229.81 87.19 Z" fill="#1a72c2"/>
<path d="M230.61 85.05 L234.01 83.35 L234.01 86.75 Z" fill="#ffffff" stroke="#1a72c2" stroke-width="0.5"/>
<path d="M230.61 85.05 L232.31 84.2 L232.31 85.9 Z" fill="#1a72c2"/>
<path d="M233.11 83.75 L236.51 82.05 L236.51 85.45 Z" fill="#ffffff" stroke="#1a72c2" stroke-width="0.5"/>
<path d="M233.11 83.75 L234.81 82.9 L234.81 84.6 Z" fill="#1a72c2"/>
<polyline points="192.37,105.94 194.31,104.85 196.26,103.76 198.2,102.67 200.14,101.57 202.08,100.48 204.02,99.39 205.96,98.3 207.9,97.2 209.85,96.11 211.79,95.02 213.73,93.93 215.67,92.83 217.61,91.74 219.55,90.65 221.49,89.56 223.43,88.46 225.38,87.37 227.32,86.28 229.26,85.19 231.2,84.09" fill="none" stroke="#a23ea2" stroke-width="0.6" stroke-linejoin="round"/>
<path d="M190.57 105.94 L194.17 104.14 L194.17 107.74 Z" fill="#ffffff" stroke="#a23ea2" stroke-width="0.5"/>
<path d="M190.57 105.94 L192.37 105.04 L192.37 106.84 Z" fill="#a23ea2"/>
<path d="M192.51 104.85 L196.11 103.05 L196.11 106.65 Z" fill="#ffffff" stroke="#a23ea2" stroke-width="0.5"/>
<path d="M192.51 104.85 L194.31 103.95 L194.31 105.75 Z" fill="#a23ea2"/>
<path d="M194.46 103.76 L198.06 101.96 L198.06 105.56 Z" fill="#ffffff" stroke="#a23ea2" stroke-width="0.5"/>
<path d="M194.46 103.76 L196.26 102.86 L196.26 104.66 Z" fill="#a23ea2"/>
<path d="M196.4 102.67 L200 100.87 L200 104.47 Z" fill="#ffffff" stroke="#a23ea2" stroke-width="0.5"/>
<path d="M196.4 102.67 L198.2 101.77 L198.2 103.57 Z" fill="#a23ea2"/>
<path d="M198.34 101.57 L201.94 99.77 L201.94 103.37 Z" fill="#ffffff" stroke="#a23ea2" stroke-width="0.5"/>
<path d="M198.34 101.57 L200.14 100.67 L200.14 102.47 Z" fill="#a23ea2"/>
<path d="M200.28 100.48 L203.88 98.68 L203.88 102.28 Z" fill="#ffffff" stroke="#a23ea2" stroke-width="0.5"/>
<path d="M200.28 100.48 L202.08 99.58 L202.08 101.38 Z" fill="#a23ea2"/>
<path d="M202.22 99.39 L205.82 97.59 L205.82 101.19 Z" fill="#ffffff" stroke="#a23ea2" stroke-width="0.5"/>
<path d="M202.22 99.39 L204.02 98.49 L204.02 100.29 Z" fill="#a23ea2"/>
<path d="M204.16 98.3 L207.76 96.5 L207.76 100.1 Z" fill="#ffffff" stroke="#a23ea2" stroke-width="0.5"/>
<path d="M204.16 98.3 L205.96 97.4 L205.96 99.2 Z" fill="#a23ea2"/>
<path d="M206.1 97.2 L209.7 95.4 L209.7 99 Z" fill="#ffffff" stroke="#a23ea2" stroke-width="0.5"/>
<path d="M206.1 97.2 L207.9 96.3 L207.9 98.1 Z" fill="#a23ea2"/>
<path d="M208.05 96.11 L211.65 94.31 L211.65 97.91 Z" fill="#ffffff" stroke="#a23ea2" stroke-width="0.5"/>
<path d="M208.05 96.11 L209.85 95.21 L209.85 97.01 Z" fill="#a23ea2"/>
<path d="M209.99 95.02 L213.59 93.22 L213.59 96.82 Z" fill="#ffffff" stroke="#a23ea2" stroke-width="0.5"/>
<path d="M209.99 95.02 L211.79 94.12 L211.79 95.92 Z" fill="#a23ea2"/>
<path d="M211.93 93.93 L215.53 92.13 L215.53 95.73 Z" fill="#ffffff" stroke="#a23ea2" stroke-width="0.5"/>
<path d="M211.93 93.93 L213.73 93.03 L213.73 94.83 Z" fill="#a23ea2"/>
<path d="M213.87 92.83 L217.47 91.03 L217.47 94.63 Z" fill="#ffffff" stroke="#a23ea2" stroke-width="0.5"/>
<path d="M213.87 92.83 L215.67 91.93 L215.67 93.73 Z" fill="#a23ea2"/>
<path d="M215.81 91.74 L219.41 89.94 L219.41 93.54 Z" fill="#ffffff" stroke="#a23ea2" stroke-width="0.5"/>
<path d="M215.81 91.74 L217.61 90.84 L217.61 92.64 Z" fill="#a23ea2"/>
<path d="M217.75 90.65 L221.35 88.85 L221.35 92.45 Z" fill="#ffffff" stroke="#a23ea2" stroke-width="0.5"/>
<path d="M217.75 90.65 L219.55 89.75 L219.55 91.55 Z" fill="#a23ea2"/>
<path d="M219.69 89.56 L223.29 87.76 L223.29 91.36 Z" fill="#ffffff" stroke="#a23ea2" stroke-width="0.5"/>
<path d="M219.69 89.56 L221.49 88.66 L221.49 90.46 Z" fill="#a23ea2"/>
<path d="M221.63 88.46 L225.23 86.66 L225.23 90.26 Z" fill="#ffffff" stroke="#a23ea2" stroke-width="0.5"/>
<path d="M221.63 88.46 L223.43 87.56 L223.43 89.36 Z" fill="#a23ea2"/>
<path d="M223.58 87.37 L227.18 85.57 L227.18 89.17 Z" fill="#ffffff" stroke="#a23ea2" stroke-width="0.5"/>
<path d="M223.58 87.37 L225.38 86.47 L225.38 88.27 Z" fill="#a23ea2"/>
<path d="M225.52 86.28 L229.12 84.48 L229.12 88.08 Z" fill="#ffffff" stroke="#a23ea2" stroke-width="0.5"/>
<path d="M225.52 86.28 L227.32 85.38 L227.32 87.18 Z" fill="#a23ea2"/>
<path d="M227.46 85.19 L231.06 83.39 L231.06 86.99 Z" fill="#ffffff" stroke="#a23ea2" stroke-width="0.5"/>
<path d="M227.46 85.19 L229.26 84.29 L229.26 86.09 Z" fill="#a23ea2"/>
<path d="M229.4 84.09 L233 82.29 L233 85.89 Z" fill="#ffffff" stroke="#a23ea2" stroke-width="0.5"/>
<path d="M229.4 84.09 L231.2 83.19 L231.2 84.99 Z" fill="#a23ea2"/>
<polyline points="203.47,101.38 210.4,98.05 217.33,94.47 224.27,90.7 231.2,85.6 238.13,79.69 245.07,73.41 252,67.12 258.93,63.55 265.87,58.72 272.8,50.25 279.73,40.55 286.67,31.49 292.21,24.66" fill="none" stroke="#7b2a2a" stroke-width="0.6" stroke-linejoin="round"/>
<circle cx="203.47" cy="101.38" r="2.0" fill="#ffffff" stroke="#7b2a2a" stroke-width="0.5"/>
<path d="M201.47 101.38 A2.0 2.0 0 0 0 205.47 101.38 Z" fill="#7b2a2a"/>
<circle cx="210.4" cy="98.05" r="2.0" fill="#ffffff" stroke="#7b2a2a" stroke-width="0.5"/>
<path d="M208.4 98.05 A2.0 2.0 0 0 0 212.4 98.05 Z" fill="#7b2a2a"/>
<circle cx="217.33" cy="94.47" r="2.0" fill="#ffffff" stroke="#7b2a2a" stroke-width="0.5"/>
<path d="M215.33 94.47 A2.0 2.0 0 0 0 219.33 94.47 Z" fill="#7b2a2a"/>
<circle cx="224.27" cy="90.7" r="2.0" fill="#ffffff" stroke="#7b2a2a" stroke-width="0.5"/>
<path d="M222.27 90.7 A2.0 2.0 0 0 0 226.27 90.7 Z" fill="#7b2a2a"/>
<circle cx="231.2" cy="85.6" r="2.0" fill="#ffffff" stroke="#7b2a2a" stroke-width="0.5"/>
<path d="M229.2 85.6 A2.0 2.0 0 0 0 233.2 85.6 Z" fill="#7b2a2a"/>
<circle cx="238.13" cy="79.69" r="2.0" fill="#ffffff" stroke="#7b2a2a" stroke-width="0.5"/>
<path d="M236.13 79.69 A2.0 2.0 0 0 0 240.13 79.69 Z" fill="#7b2a2a"/>
<circle cx="245.07" cy="73.41" r="2.0" fill="#ffffff" stroke="#7b2a2a" stroke-width="0.5"/>
<path d="M243.07 73.41 A2.0 2.0 0 0 0 247.07 73.41 Z" fill="#7b2a2a"/>
<circle cx="252" cy="67.12" r="2.0" fill="#ffffff" stroke="#7b2a2a" stroke-width="0.5"/>
<path d="M250 67.12 A2.0 2.0 0 0 0 254 67.12 Z" fill="#7b2a2a"/>
<circle cx="258.93" cy="63.55" r="2.0" fill="#ffffff" stroke="#7b2a2a" stroke-width="0.5"/>
<path d="M256.93 63.55 A2.0 2.0 0 0 0 260.93 63.55 Z" fill="#7b2a2a"/>
<circle cx="265.87" cy="58.72" r="2.0" fill="#ffffff" stroke="#7b2a2a" stroke-width="0.5"/>
<path d="M263.87 58.72 A2.0 2.0 0 0 0 267.87 58.72 Z" fill="#7b2a2a"/>
<circle cx="272.8" cy="50.25" r="2.0" fill="#ffffff" stroke="#7b2a2a" stroke-width="0.5"/>
<path d="M270.8 50.25 A2.0 2.0 0 0 0 274.8 50.25 Z" fill="#7b2a2a"/>
<circle cx="279.73" cy="40.55" r="2.0" fill="#ffffff" stroke="#7b2a2a" stroke-width="0.5"/>
<path d="M277.73 40.55 A2.0 2.0 0 0 0 281.73 40.55 Z" fill="#7b2a2a"/>
<circle cx="286.67" cy="31.49" r="2.0" fill="#ffffff" stroke="#7b2a2a" stroke-width="0.5"/>
<path d="M284.67 31.49 A2.0 2.0 0 0 0 288.67 31.49 Z" fill="#7b2a2a"/>
<circle cx="292.21" cy="24.66" r="2.0" fill="#ffffff" stroke="#7b2a2a" stroke-width="0.5"/>
<path d="M290.21 24.66 A2.0 2.0 0 0 0 294.21 24.66 Z" fill="#7b2a2a"/>
<polyline points="203.47,103.27 210.4,99.94 217.33,96.35 224.27,92.58 231.2,87.49 238.13,81.58 245.07,75.29 252,69 258.93,62.72 265.87,55.17 272.8,46.37 279.73,36.94 286.67,28.13 294.57,18.7" fill="none" stroke="#e3161b" stroke-width="0.9" stroke-linejoin="round"/>
<circle cx="203.47" cy="103.27" r="2.7" fill="#e3161b" stroke="#b00000" stroke-width="0.4"/>
<ellipse cx="203.27" cy="102.77" rx="1.49" ry="0.81" fill="#ffffff" opacity="0.9"/>
<circle cx="210.4" cy="99.94" r="2.7" fill="#e3161b" stroke="#b00000" stroke-width="0.4"/>
<ellipse cx="210.2" cy="99.44" rx="1.49" ry="0.81" fill="#ffffff" opacity="0.9"/>
<circle cx="217.33" cy="96.35" r="2.7" fill="#e3161b" stroke="#b00000" stroke-width="0.4"/>
<ellipse cx="217.13" cy="95.85" rx="1.49" ry="0.81" fill="#ffffff" opacity="0.9"/>
<circle cx="224.27" cy="92.58" r="2.7" fill="#e3161b" stroke="#b00000" stroke-width="0.4"/>
<ellipse cx="224.07" cy="92.08" rx="1.49" ry="0.81" fill="#ffffff" opacity="0.9"/>
<circle cx="231.2" cy="87.49" r="2.7" fill="#e3161b" stroke="#b00000" stroke-width="0.4"/>
<ellipse cx="231" cy="86.99" rx="1.49" ry="0.81" fill="#ffffff" opacity="0.9"/>
<circle cx="238.13" cy="81.58" r="2.7" fill="#e3161b" stroke="#b00000" stroke-width="0.4"/>
<ellipse cx="237.93" cy="81.08" rx="1.49" ry="0.81" fill="#ffffff" opacity="0.9"/>
<circle cx="245.07" cy="75.29" r="2.7" fill="#e3161b" stroke="#b00000" stroke-width="0.4"/>
<ellipse cx="244.87" cy="74.79" rx="1.49" ry="0.81" fill="#ffffff" opacity="0.9"/>
<circle cx="252" cy="69" r="2.7" fill="#e3161b" stroke="#b00000" stroke-width="0.4"/>
<ellipse cx="251.8" cy="68.5" rx="1.49" ry="0.81" fill="#ffffff" opacity="0.9"/>
<circle cx="258.93" cy="62.72" r="2.7" fill="#e3161b" stroke="#b00000" stroke-width="0.4"/>
<ellipse cx="258.73" cy="62.22" rx="1.49" ry="0.81" fill="#ffffff" opacity="0.9"/>
<circle cx="265.87" cy="55.17" r="2.7" fill="#e3161b" stroke="#b00000" stroke-width="0.4"/>
<ellipse cx="265.67" cy="54.67" rx="1.49" ry="0.81" fill="#ffffff" opacity="0.9"/>
<circle cx="272.8" cy="46.37" r="2.7" fill="#e3161b" stroke="#b00000" stroke-width="0.4"/>
<ellipse cx="272.6" cy="45.87" rx="1.49" ry="0.81" fill="#ffffff" opacity="0.9"/>
<circle cx="279.73" cy="36.94" r="2.7" fill="#e3161b" stroke="#b00000" stroke-width="0.4"/>
<ellipse cx="279.53" cy="36.44" rx="1.49" ry="0.81" fill="#ffffff" opacity="0.9"/>
<circle cx="286.67" cy="28.13" r="2.7" fill="#e3161b" stroke="#b00000" stroke-width="0.4"/>
<ellipse cx="286.47" cy="27.63" rx="1.49" ry="0.81" fill="#ffffff" opacity="0.9"/>
<circle cx="294.57" cy="18.7" r="2.7" fill="#e3161b" stroke="#b00000" stroke-width="0.4"/>
<ellipse cx="294.37" cy="18.2" rx="1.49" ry="0.81" fill="#ffffff" opacity="0.9"/>
<text x="276.0" y="14.8" font-size="4.65" font-weight="bold" fill="#e3161b" stroke="#e3161b" stroke-width="0.08"><tspan font-style="italic">E</tspan><tspan font-size="3.3" dy="1">b</tspan><tspan dy="-1"> = 760 kV·cm</tspan><tspan font-size="3.3" dy="-1.7">−1</tspan></text>
<line x1="259" y1="71.8" x2="273.5" y2="81.5" stroke="#22b08a" stroke-width="0.7"/>
<path d="M275.6 82.9 L271.9 82.0 L273.5 79.7 Z" fill="#22b08a"/>
<text x="264.6" y="89.6" font-size="4.6" font-weight="bold" fill="#22b08a" stroke="#22b08a" stroke-width="0.08"><tspan font-style="italic">E</tspan> = 500 kV·cm<tspan font-size="3.2" dy="-1.7">−1</tspan></text>
<text x="264.6" y="95.4" font-size="4.6" font-weight="bold" fill="#22b08a" stroke="#22b08a" stroke-width="0.08"><tspan font-style="italic">W</tspan><tspan font-size="3.2" dy="1">rec</tspan><tspan dy="-1"> = 7 J·cm</tspan><tspan font-size="3.2" dy="-1.7">−3</tspan></text>
<text x="264.6" y="101.9" font-size="4.6" font-weight="bold" fill="#22b08a" stroke="#22b08a" stroke-width="0.08"><tspan font-style="italic">η</tspan> = 92%</text>
<line x1="190.2" y1="9.6" x2="199.6" y2="9.6" stroke="#27296b" stroke-width="0.6"/>
<rect x="192.9" y="7.9" width="3.4" height="3.4" fill="#ffffff" stroke="#27296b" stroke-width="0.5"/>
<rect x="192.9" y="7.9" width="1.7" height="3.4" fill="#27296b" stroke="none" stroke-width="0.8"/>
<text x="201.2" y="11.3" font-size="4.8" text-anchor="start" font-weight="bold" fill="#27296b" stroke="#27296b" stroke-width="0.08">Adv. Funct. Mater. 2022, 2111776</text>
<line x1="190.2" y1="15.3" x2="199.6" y2="15.3" stroke="#5050cc" stroke-width="0.6"/>
<rect x="192.9" y="13.6" width="3.4" height="3.4" fill="#ffffff" stroke="#5050cc" stroke-width="0.5"/>
<rect x="192.9" y="15.3" width="3.4" height="1.7" fill="#5050cc" stroke="none" stroke-width="0.8"/>
<text x="201.2" y="17" font-size="4.8" text-anchor="start" font-weight="bold" fill="#5050cc" stroke="#5050cc" stroke-width="0.08">Energy Storage Mater. 2022, 861</text>
<line x1="190.2" y1="21" x2="199.6" y2="21" stroke="#a3a3ea" stroke-width="0.6"/>
<rect x="192.9" y="19.3" width="3.4" height="3.4" fill="#ffffff" stroke="#a3a3ea" stroke-width="0.5"/>
<rect x="194.6" y="19.3" width="1.7" height="3.4" fill="#a3a3ea" stroke="none" stroke-width="0.8"/>
<text x="201.2" y="22.7" font-size="4.8" text-anchor="start" font-weight="bold" fill="#a3a3ea" stroke="#a3a3ea" stroke-width="0.08">Chem. Eng. J. 2021, 131465</text>
<line x1="190.2" y1="26.8" x2="199.6" y2="26.8" stroke="#4d6b22" stroke-width="0.6"/>
<rect x="192.9" y="25.1" width="3.4" height="3.4" fill="#ffffff" stroke="#4d6b22" stroke-width="0.5"/>
<rect x="192.9" y="25.1" width="3.4" height="1.7" fill="#4d6b22" stroke="none" stroke-width="0.8"/>
<text x="201.2" y="28.5" font-size="4.8" text-anchor="start" font-weight="bold" fill="#4d6b22" stroke="#4d6b22" stroke-width="0.08">Nano Energy 2019, 768</text>
<line x1="190.2" y1="32.7" x2="199.6" y2="32.7" stroke="#9bc54f" stroke-width="0.6"/>
<circle cx="194.6" cy="32.7" r="1.7" fill="#ffffff" stroke="#9bc54f" stroke-width="0.5"/>
<path d="M194.6 31 A1.7 1.7 0 0 0 194.6 34.4 Z" fill="#9bc54f"/>
<text x="201.2" y="34.4" font-size="4.8" text-anchor="start" font-weight="bold" fill="#9bc54f" stroke="#9bc54f" stroke-width="0.08">Nat. Commun. 2022, 3089</text>
<line x1="190.2" y1="38.7" x2="199.6" y2="38.7" stroke="#7b2a2a" stroke-width="0.6"/>
<circle cx="194.6" cy="38.7" r="1.7" fill="#ffffff" stroke="#7b2a2a" stroke-width="0.5"/>
<path d="M192.9 38.7 A1.7 1.7 0 0 1 196.3 38.7 Z" fill="#7b2a2a"/>
<text x="201.2" y="40.4" font-size="4.8" text-anchor="start" font-weight="bold" fill="#7b2a2a" stroke="#7b2a2a" stroke-width="0.08">Adv. Mater. 2022, 2204356 (SPS)</text>
<line x1="190.2" y1="44.9" x2="199.6" y2="44.9" stroke="#f3a3a3" stroke-width="0.6"/>
<circle cx="194.6" cy="44.9" r="1.7" fill="#ffffff" stroke="#f3a3a3" stroke-width="0.5"/>
<path d="M192.9 44.9 A1.7 1.7 0 0 1 196.3 44.9 Z" fill="#f3a3a3"/>
<text x="201.2" y="46.6" font-size="4.8" text-anchor="start" font-weight="bold" fill="#f3a3a3" stroke="#f3a3a3" stroke-width="0.08">Chem. Eng. J. 2022, 131959</text>
<line x1="190.2" y1="51" x2="199.6" y2="51" stroke="#a23ea2" stroke-width="0.6"/>
<path d="M192.9 51 L196.3 49.3 L196.3 52.7 Z" fill="#ffffff" stroke="#a23ea2" stroke-width="0.5"/>
<path d="M192.9 51 L194.6 50.15 L194.6 51.85 Z" fill="#a23ea2"/>
<text x="201.2" y="52.7" font-size="4.8" text-anchor="start" font-weight="bold" fill="#a23ea2" stroke="#a23ea2" stroke-width="0.08">Chem. Eng. J. 2022, 136538</text>
<line x1="190.2" y1="57.1" x2="199.6" y2="57.1" stroke="#1a72c2" stroke-width="0.6"/>
<path d="M192.9 57.1 L196.3 55.4 L196.3 58.8 Z" fill="#ffffff" stroke="#1a72c2" stroke-width="0.5"/>
<path d="M192.9 57.1 L194.6 56.25 L194.6 57.95 Z" fill="#1a72c2"/>
<text x="201.2" y="58.8" font-size="4.8" text-anchor="start" font-weight="bold" fill="#1a72c2" stroke="#1a72c2" stroke-width="0.08">ACS Appl. Mater.</text>
<text x="201.2" y="64.7" font-size="4.8" text-anchor="start" font-weight="bold" fill="#1a72c2" stroke="#1a72c2" stroke-width="0.08">Interfaces 2021, 29472</text>
<line x1="190.2" y1="68.9" x2="199.6" y2="68.9" stroke="#e3161b" stroke-width="0.6"/>
<circle cx="194.6" cy="68.9" r="2.4" fill="#e3161b" stroke="#b00000" stroke-width="0.4"/>
<ellipse cx="194.4" cy="68.4" rx="1.32" ry="0.72" fill="#ffffff" opacity="0.9"/>
<text x="201.2" y="70.6" font-size="4.8" text-anchor="start" font-weight="bold" fill="#e3161b" stroke="#e3161b" stroke-width="0.08">This work</text>
<text x="201.2" y="76.4" font-size="4.8" text-anchor="start" font-weight="bold" fill="#e3161b" stroke="#e3161b" stroke-width="0.08">(KNN-0.15SNZ)</text>
<rect x="363.5" y="5.6" width="124.8" height="100.6" fill="none" stroke="#262626" stroke-width="1.1"/>
<line x1="363.5" y1="106.2" x2="363.5" y2="104.2" stroke="#262626" stroke-width="0.9"/>
<line x1="405.1" y1="106.2" x2="405.1" y2="104.2" stroke="#262626" stroke-width="0.9"/>
<line x1="446.7" y1="106.2" x2="446.7" y2="104.2" stroke="#262626" stroke-width="0.9"/>
<line x1="488.3" y1="106.2" x2="488.3" y2="104.2" stroke="#262626" stroke-width="0.9"/>
<line x1="384.3" y1="106.2" x2="384.3" y2="105" stroke="#262626" stroke-width="0.9"/>
<line x1="425.9" y1="106.2" x2="425.9" y2="105" stroke="#262626" stroke-width="0.9"/>
<line x1="467.5" y1="106.2" x2="467.5" y2="105" stroke="#262626" stroke-width="0.9"/>
<text x="363.5" y="113.5" font-size="6.7" text-anchor="middle" font-weight="bold" fill="#1a1a1a" stroke="#1a1a1a" stroke-width="0.22">−0.4</text>
<text x="405.1" y="113.5" font-size="6.7" text-anchor="middle" font-weight="bold" fill="#1a1a1a" stroke="#1a1a1a" stroke-width="0.22">0.0</text>
<text x="446.7" y="113.5" font-size="6.7" text-anchor="middle" font-weight="bold" fill="#1a1a1a" stroke="#1a1a1a" stroke-width="0.22">0.4</text>
<text x="488.3" y="113.5" font-size="6.7" text-anchor="middle" font-weight="bold" fill="#1a1a1a" stroke="#1a1a1a" stroke-width="0.22">0.8</text>
<line x1="363.5" y1="106.2" x2="365.5" y2="106.2" stroke="#262626" stroke-width="0.9"/>
<line x1="363.5" y1="72.67" x2="365.5" y2="72.67" stroke="#262626" stroke-width="0.9"/>
<line x1="363.5" y1="39.13" x2="365.5" y2="39.13" stroke="#262626" stroke-width="0.9"/>
<line x1="363.5" y1="5.6" x2="365.5" y2="5.6" stroke="#262626" stroke-width="0.9"/>
<line x1="363.5" y1="89.43" x2="364.7" y2="89.43" stroke="#262626" stroke-width="0.9"/>
<line x1="363.5" y1="55.9" x2="364.7" y2="55.9" stroke="#262626" stroke-width="0.9"/>
<line x1="363.5" y1="22.37" x2="364.7" y2="22.37" stroke="#262626" stroke-width="0.9"/>
<text x="361.5" y="108.61" font-size="6.7" text-anchor="end" font-weight="bold" fill="#1a1a1a" stroke="#1a1a1a" stroke-width="0.22">−20</text>
<text x="361.5" y="75.08" font-size="6.7" text-anchor="end" font-weight="bold" fill="#1a1a1a" stroke="#1a1a1a" stroke-width="0.22">0</text>
<text x="361.5" y="41.55" font-size="6.7" text-anchor="end" font-weight="bold" fill="#1a1a1a" stroke="#1a1a1a" stroke-width="0.22">20</text>
<text x="361.5" y="8.01" font-size="6.7" text-anchor="end" font-weight="bold" fill="#1a1a1a" stroke="#1a1a1a" stroke-width="0.22">40</text>
<text x="425.4" y="121.8" font-size="8.4" text-anchor="middle" font-weight="bold" fill="#1a1a1a" stroke="#1a1a1a" stroke-width="0.22">Time (μs)</text>
<text x="350.8" y="56.5" font-size="8.4" text-anchor="middle" font-weight="bold" fill="#1a1a1a" transform="rotate(-90 350.8 56.5)" stroke="#1a1a1a" stroke-width="0.22">Current (A)</text>
<polyline points="405.93,72.67 405.96,72.44 406.01,72.19 406.07,71.44 406.14,69.73 406.23,66.07 406.32,61 406.43,56.34 406.56,53.89 406.69,54.57 406.83,57.26 406.98,60.76 407.15,63.86 407.32,66.22 407.5,68.49 407.71,70.94 407.98,73.84 408.33,78.03 408.74,83.11 409.19,87.51 409.64,89.64 410.09,88.64 410.56,85.48 411.05,81.42 411.54,77.7 412.03,73.98 412.54,69.84 413.04,66.32 413.55,64.49 414.06,65.08 414.57,67.36 415.07,70.25 415.57,72.67 416.06,74.67 416.55,76.71 417.03,78.31 417.46,78.95 417.85,78.21 418.2,76.44 418.54,74.36 418.89,72.67 419.24,71.37 419.61,70.15 419.96,69.25 420.31,68.89 420.64,69.34 420.97,70.4 421.29,71.65 421.61,72.67 421.94,73.44 422.27,74.18 422.6,74.72 422.92,74.93 423.22,74.66 423.52,74.03 423.81,73.28 424.1,72.67 424.4,72.19 424.7,71.75 424.99,71.41 425.29,71.28 425.58,71.45 425.88,71.85 426.18,72.31 426.47,72.67 426.75,72.91 427.02,73.11 427.31,73.24 427.66,73.3 428.13,73.21 428.68,73.02 429.2,72.81 429.56,72.67" fill="none" stroke="#9ccdee" stroke-width="0.9" stroke-linejoin="round"/>
<polyline points="405.72,72.67 405.76,72.28 405.8,71.85 405.86,70.57 405.93,67.64 406.02,61.36 406.12,52.67 406.23,44.67 406.35,40.47 406.48,41.64 406.61,46.26 406.76,52.26 406.93,57.58 407.09,61.81 407.26,66.02 407.47,70.28 407.73,74.68 408.08,80.05 408.48,86.07 408.91,91.1 409.35,93.49 409.79,92.22 410.25,88.35 410.72,83.39 411.2,78.84 411.68,74.28 412.17,69.2 412.67,64.88 413.16,62.64 413.65,63.36 414.15,66.16 414.64,69.71 415.12,72.67 415.6,75.12 416.08,77.63 416.54,79.59 416.97,80.38 417.35,79.46 417.69,77.29 418.02,74.74 418.35,72.67 418.7,71.08 419.05,69.58 419.4,68.47 419.74,68.04 420.06,68.59 420.38,69.89 420.69,71.42 421.01,72.67 421.33,73.62 421.65,74.52 421.97,75.18 422.28,75.44 422.58,75.11 422.86,74.33 423.15,73.42 423.43,72.67 423.72,72.09 424.01,71.54 424.3,71.13 424.59,70.97 424.88,71.18 425.16,71.66 425.45,72.23 425.74,72.67 426.01,72.96 426.28,73.21 426.56,73.38 426.9,73.44 427.35,73.34 427.89,73.1 428.4,72.84 428.74,72.67" fill="none" stroke="#3076ba" stroke-width="0.9" stroke-linejoin="round"/>
<polyline points="405.52,72.67 405.55,72.26 405.59,71.79 405.65,70.43 405.72,67.3 405.81,60.61 405.91,51.34 406.02,42.81 406.14,38.33 406.26,39.57 406.4,44.5 406.54,50.9 406.7,56.57 406.86,61.11 407.02,65.62 407.22,70.17 407.48,74.81 407.8,80.38 408.19,86.58 408.61,91.73 409.03,94.17 409.46,92.85 409.9,88.86 410.36,83.74 410.81,79.04 411.28,74.33 411.75,69.08 412.23,64.63 412.71,62.31 413.18,63.05 413.66,65.95 414.13,69.61 414.6,72.67 415.06,75.2 415.52,77.79 415.97,79.82 416.38,80.63 416.74,79.69 417.07,77.45 417.39,74.81 417.71,72.67 418.05,71.02 418.39,69.48 418.72,68.34 419.05,67.89 419.36,68.46 419.67,69.8 419.97,71.38 420.27,72.67 420.58,73.65 420.89,74.58 421.2,75.26 421.5,75.53 421.78,75.19 422.06,74.39 422.33,73.44 422.61,72.67 422.89,72.07 423.17,71.5 423.44,71.08 423.72,70.91 424,71.13 424.28,71.63 424.56,72.21 424.84,72.67 425.1,72.97 425.35,73.22 425.62,73.4 425.95,73.46 426.39,73.36 426.91,73.11 427.39,72.85 427.73,72.67" fill="none" stroke="#a6da8e" stroke-width="0.9" stroke-linejoin="round"/>
<polyline points="405.31,72.67 405.34,72.22 405.39,71.71 405.44,70.22 405.52,66.8 405.6,59.48 405.7,49.34 405.81,40.01 405.93,35.11 406.05,36.47 406.18,41.86 406.32,48.86 406.47,55.06 406.63,60.05 406.79,65.05 406.98,70.03 407.23,75.01 407.55,80.81 407.93,87.15 408.33,92.39 408.74,94.85 409.16,93.48 409.59,89.36 410.03,84.09 410.47,79.24 410.93,74.39 411.39,68.97 411.85,64.37 412.31,61.99 412.78,62.75 413.24,65.73 413.7,69.52 414.15,72.67 414.6,75.28 415.05,77.96 415.48,80.04 415.88,80.88 416.24,79.91 416.56,77.6 416.87,74.87 417.18,72.67 417.51,70.97 417.84,69.38 418.16,68.2 418.48,67.74 418.78,68.32 419.08,69.71 419.37,71.34 419.67,72.67 419.97,73.68 420.27,74.64 420.57,75.35 420.86,75.62 421.14,75.27 421.41,74.44 421.67,73.46 421.94,72.67 422.21,72.05 422.48,71.47 422.75,71.03 423.02,70.86 423.29,71.08 423.56,71.6 423.83,72.2 424.1,72.67 424.36,72.98 424.6,73.24 424.87,73.42 425.18,73.49 425.61,73.38 426.12,73.13 426.59,72.85 426.92,72.67" fill="none" stroke="#30a03c" stroke-width="0.9" stroke-linejoin="round"/>
<polyline points="363.5,72.67 405.1,72.67 405.13,72.02 405.18,71.3 405.24,69.17 405.31,64.28 405.39,53.83 405.5,39.34 405.61,26.01 405.72,19.01 405.84,20.95 405.96,28.65 406.1,38.66 406.24,47.52 406.39,54.86 406.55,62.34 406.73,69.54 406.97,76.02 407.28,82.31 407.64,88.44 408.03,93.17 408.43,95.3 408.83,93.83 409.24,89.64 409.66,84.3 410.09,79.37 410.53,74.42 410.97,68.89 411.42,64.2 411.86,61.77 412.3,62.55 412.75,65.59 413.19,69.45 413.63,72.67 414.06,75.33 414.49,78.06 414.91,80.19 415.29,81.05 415.63,80.05 415.94,77.7 416.24,74.92 416.54,72.67 416.85,70.94 417.17,69.31 417.48,68.11 417.79,67.64 418.08,68.23 418.37,69.65 418.65,71.31 418.93,72.67 419.22,73.7 419.51,74.68 419.8,75.4 420.08,75.68 420.34,75.33 420.6,74.48 420.86,73.48 421.12,72.67 421.38,72.04 421.64,71.44 421.9,71 422.16,70.82 422.42,71.05 422.68,71.58 422.94,72.19 423.2,72.67 423.44,72.99 423.68,73.25 423.93,73.44 424.24,73.5 424.65,73.39 425.13,73.14 425.59,72.86 425.9,72.67 488.3,72.67" fill="none" stroke="#f49696" stroke-width="0.9" stroke-linejoin="round"/>
<line x1="436.1" y1="12.2" x2="448.8" y2="12.2" stroke="#9ccdee" stroke-width="0.85"/>
<text x="451.6" y="14.2" font-size="5.8" font-weight="bold" fill="#1a1a1a" stroke="#1a1a1a" stroke-width="0.12">100 kV·cm<tspan font-size="3.9" dy="-2">−1</tspan></text>
<line x1="436.1" y1="23.2" x2="448.8" y2="23.2" stroke="#3076ba" stroke-width="0.85"/>
<text x="451.6" y="25.2" font-size="5.8" font-weight="bold" fill="#1a1a1a" stroke="#1a1a1a" stroke-width="0.12">200 kV·cm<tspan font-size="3.9" dy="-2">−1</tspan></text>
<line x1="436.1" y1="34.2" x2="448.8" y2="34.2" stroke="#a6da8e" stroke-width="0.85"/>
<text x="451.6" y="36.2" font-size="5.8" font-weight="bold" fill="#1a1a1a" stroke="#1a1a1a" stroke-width="0.12">300 kV·cm<tspan font-size="3.9" dy="-2">−1</tspan></text>
<line x1="436.1" y1="45.2" x2="448.8" y2="45.2" stroke="#30a03c" stroke-width="0.85"/>
<text x="451.6" y="47.2" font-size="5.8" font-weight="bold" fill="#1a1a1a" stroke="#1a1a1a" stroke-width="0.12">400 kV·cm<tspan font-size="3.9" dy="-2">−1</tspan></text>
<line x1="436.1" y1="56" x2="448.8" y2="56" stroke="#f49696" stroke-width="0.85"/>
<text x="451.6" y="58" font-size="5.8" font-weight="bold" fill="#1a1a1a" stroke="#1a1a1a" stroke-width="0.12">450 kV·cm<tspan font-size="3.9" dy="-2">−1</tspan></text>
<rect x="531.5" y="5.7" width="124.9" height="100.4" fill="none" stroke="#262626" stroke-width="1.1"/>
<line x1="545.38" y1="106.1" x2="545.38" y2="104.1" stroke="#262626" stroke-width="0.9"/>
<line x1="573.13" y1="106.1" x2="573.13" y2="104.1" stroke="#262626" stroke-width="0.9"/>
<line x1="600.89" y1="106.1" x2="600.89" y2="104.1" stroke="#262626" stroke-width="0.9"/>
<line x1="628.64" y1="106.1" x2="628.64" y2="104.1" stroke="#262626" stroke-width="0.9"/>
<line x1="656.4" y1="106.1" x2="656.4" y2="104.1" stroke="#262626" stroke-width="0.9"/>
<line x1="531.5" y1="106.1" x2="531.5" y2="104.9" stroke="#262626" stroke-width="0.9"/>
<line x1="559.26" y1="106.1" x2="559.26" y2="104.9" stroke="#262626" stroke-width="0.9"/>
<line x1="587.01" y1="106.1" x2="587.01" y2="104.9" stroke="#262626" stroke-width="0.9"/>
<line x1="614.77" y1="106.1" x2="614.77" y2="104.9" stroke="#262626" stroke-width="0.9"/>
<line x1="642.52" y1="106.1" x2="642.52" y2="104.9" stroke="#262626" stroke-width="0.9"/>
<text x="545.38" y="113.4" font-size="6.7" text-anchor="middle" font-weight="bold" fill="#1a1a1a" stroke="#1a1a1a" stroke-width="0.22">100</text>
<text x="573.13" y="113.4" font-size="6.7" text-anchor="middle" font-weight="bold" fill="#1a1a1a" stroke="#1a1a1a" stroke-width="0.22">200</text>
<text x="600.89" y="113.4" font-size="6.7" text-anchor="middle" font-weight="bold" fill="#1a1a1a" stroke="#1a1a1a" stroke-width="0.22">300</text>
<text x="628.64" y="113.4" font-size="6.7" text-anchor="middle" font-weight="bold" fill="#1a1a1a" stroke="#1a1a1a" stroke-width="0.22">400</text>
<text x="656.4" y="113.4" font-size="6.7" text-anchor="middle" font-weight="bold" fill="#1a1a1a" stroke="#1a1a1a" stroke-width="0.22">500</text>
<line x1="531.5" y1="106.1" x2="533.5" y2="106.1" stroke="#262626" stroke-width="0.9"/>
<line x1="531.5" y1="86.02" x2="533.5" y2="86.02" stroke="#262626" stroke-width="0.9"/>
<line x1="531.5" y1="65.94" x2="533.5" y2="65.94" stroke="#262626" stroke-width="0.9"/>
<line x1="531.5" y1="45.86" x2="533.5" y2="45.86" stroke="#262626" stroke-width="0.9"/>
<line x1="531.5" y1="25.78" x2="533.5" y2="25.78" stroke="#262626" stroke-width="0.9"/>
<line x1="531.5" y1="5.7" x2="533.5" y2="5.7" stroke="#262626" stroke-width="0.9"/>
<line x1="531.5" y1="96.06" x2="532.7" y2="96.06" stroke="#262626" stroke-width="0.9"/>
<line x1="531.5" y1="75.98" x2="532.7" y2="75.98" stroke="#262626" stroke-width="0.9"/>
<line x1="531.5" y1="55.9" x2="532.7" y2="55.9" stroke="#262626" stroke-width="0.9"/>
<line x1="531.5" y1="35.82" x2="532.7" y2="35.82" stroke="#262626" stroke-width="0.9"/>
<line x1="531.5" y1="15.74" x2="532.7" y2="15.74" stroke="#262626" stroke-width="0.9"/>
<text x="529.5" y="108.44" font-size="6.5" text-anchor="end" font-weight="bold" fill="#1a1a1a" stroke="#1a1a1a" stroke-width="0.22">0</text>
<text x="529.5" y="88.36" font-size="6.5" text-anchor="end" font-weight="bold" fill="#1a1a1a" stroke="#1a1a1a" stroke-width="0.22">1000</text>
<text x="529.5" y="68.28" font-size="6.5" text-anchor="end" font-weight="bold" fill="#1a1a1a" stroke="#1a1a1a" stroke-width="0.22">2000</text>
<text x="529.5" y="48.2" font-size="6.5" text-anchor="end" font-weight="bold" fill="#1a1a1a" stroke="#1a1a1a" stroke-width="0.22">3000</text>
<text x="529.5" y="28.12" font-size="6.5" text-anchor="end" font-weight="bold" fill="#1a1a1a" stroke="#1a1a1a" stroke-width="0.22">4000</text>
<text x="529.5" y="8.04" font-size="6.5" text-anchor="end" font-weight="bold" fill="#1a1a1a" stroke="#1a1a1a" stroke-width="0.22">5000</text>
<line x1="656.4" y1="106.1" x2="654.4" y2="106.1" stroke="#262626" stroke-width="0.9"/>
<line x1="656.4" y1="86.02" x2="654.4" y2="86.02" stroke="#262626" stroke-width="0.9"/>
<line x1="656.4" y1="65.94" x2="654.4" y2="65.94" stroke="#262626" stroke-width="0.9"/>
<line x1="656.4" y1="45.86" x2="654.4" y2="45.86" stroke="#262626" stroke-width="0.9"/>
<line x1="656.4" y1="25.78" x2="654.4" y2="25.78" stroke="#262626" stroke-width="0.9"/>
<line x1="656.4" y1="5.7" x2="654.4" y2="5.7" stroke="#262626" stroke-width="0.9"/>
<line x1="656.4" y1="96.06" x2="655.2" y2="96.06" stroke="#262626" stroke-width="0.9"/>
<line x1="656.4" y1="75.98" x2="655.2" y2="75.98" stroke="#262626" stroke-width="0.9"/>
<line x1="656.4" y1="55.9" x2="655.2" y2="55.9" stroke="#262626" stroke-width="0.9"/>
<line x1="656.4" y1="35.82" x2="655.2" y2="35.82" stroke="#262626" stroke-width="0.9"/>
<line x1="656.4" y1="15.74" x2="655.2" y2="15.74" stroke="#262626" stroke-width="0.9"/>
<text x="658.4" y="108.51" font-size="6.7" text-anchor="start" font-weight="bold" fill="#1a1a1a" stroke="#1a1a1a" stroke-width="0.22">0</text>
<text x="658.4" y="88.43" font-size="6.7" text-anchor="start" font-weight="bold" fill="#1a1a1a" stroke="#1a1a1a" stroke-width="0.22">200</text>
<text x="658.4" y="68.35" font-size="6.7" text-anchor="start" font-weight="bold" fill="#1a1a1a" stroke="#1a1a1a" stroke-width="0.22">400</text>
<text x="658.4" y="48.27" font-size="6.7" text-anchor="start" font-weight="bold" fill="#1a1a1a" stroke="#1a1a1a" stroke-width="0.22">600</text>
<text x="658.4" y="28.19" font-size="6.7" text-anchor="start" font-weight="bold" fill="#1a1a1a" stroke="#1a1a1a" stroke-width="0.22">800</text>
<text x="658.4" y="8.11" font-size="6.7" text-anchor="start" font-weight="bold" fill="#1a1a1a" stroke="#1a1a1a" stroke-width="0.22">1000</text>
<text x="593.45" y="121.8" font-size="8.4" font-weight="bold" fill="#1a1a1a" text-anchor="middle" stroke="#1a1a1a" stroke-width="0.22"><tspan font-style="italic">E</tspan> (kV·cm<tspan font-size="5.6" dy="-3">−1</tspan><tspan dy="3">)</tspan></text>
<text x="509.4" y="57" font-size="8.4" font-weight="bold" fill="#1a1a1a" text-anchor="middle" transform="rotate(-90 509.4 57)" stroke="#1a1a1a" stroke-width="0.22"><tspan font-style="italic">C</tspan><tspan font-size="5.6" dy="1.6">D</tspan><tspan dy="-1.6"> (A·cm</tspan><tspan font-size="5.6" dy="-3">−2</tspan><tspan dy="3">)</tspan></text>
<text x="680.5" y="56" font-size="8.4" font-weight="bold" fill="#1a1a1a" text-anchor="middle" transform="rotate(-90 680.5 56)" stroke="#1a1a1a" stroke-width="0.22"><tspan font-style="italic">P</tspan><tspan font-size="5.6" dy="1.6">D</tspan><tspan dy="-1.6"> (MW·cm</tspan><tspan font-size="5.6" dy="-3">−3</tspan><tspan dy="3">)</tspan></text>
<polyline points="545.38,76.98 573.13,57.31 600.89,43.45 628.64,32.81 642.52,23.57" fill="none" stroke="#a8842a" stroke-width="0.95" stroke-linejoin="round"/>
<polyline points="545.38,99.07 573.13,81.5 600.89,59.21 628.64,33.41 642.52,12.33" fill="none" stroke="#f0606e" stroke-width="0.95" stroke-linejoin="round"/>
<circle cx="545.38" cy="76.98" r="2.3" fill="#ffffff" stroke="#a8842a" stroke-width="0.5"/>
<path d="M545.38 74.68 A2.3 2.3 0 0 0 545.38 79.28 Z" fill="#a8842a"/>
<circle cx="573.13" cy="57.31" r="2.3" fill="#ffffff" stroke="#a8842a" stroke-width="0.5"/>
<path d="M573.13 55.01 A2.3 2.3 0 0 0 573.13 59.61 Z" fill="#a8842a"/>
<circle cx="600.89" cy="43.45" r="2.3" fill="#ffffff" stroke="#a8842a" stroke-width="0.5"/>
<path d="M600.89 41.15 A2.3 2.3 0 0 0 600.89 45.75 Z" fill="#a8842a"/>
<circle cx="628.64" cy="32.81" r="2.3" fill="#ffffff" stroke="#a8842a" stroke-width="0.5"/>
<path d="M628.64 30.51 A2.3 2.3 0 0 0 628.64 35.11 Z" fill="#a8842a"/>
<circle cx="642.52" cy="23.57" r="2.3" fill="#ffffff" stroke="#a8842a" stroke-width="0.5"/>
<path d="M642.52 21.27 A2.3 2.3 0 0 0 642.52 25.87 Z" fill="#a8842a"/>
<path d="M545.38 96.47 L547.98 99.07 L545.38 101.67 L542.78 99.07 Z" fill="#ffffff" stroke="#f0606e" stroke-width="0.5"/>
<path d="M545.38 96.47 L547.98 99.07 L545.38 101.67 Z" fill="#f0606e"/>
<path d="M573.13 78.9 L575.73 81.5 L573.13 84.1 L570.53 81.5 Z" fill="#ffffff" stroke="#f0606e" stroke-width="0.5"/>
<path d="M573.13 78.9 L575.73 81.5 L573.13 84.1 Z" fill="#f0606e"/>
<path d="M600.89 56.61 L603.49 59.21 L600.89 61.81 L598.29 59.21 Z" fill="#ffffff" stroke="#f0606e" stroke-width="0.5"/>
<path d="M600.89 56.61 L603.49 59.21 L600.89 61.81 Z" fill="#f0606e"/>
<path d="M628.64 30.81 L631.24 33.41 L628.64 36.01 L626.04 33.41 Z" fill="#ffffff" stroke="#f0606e" stroke-width="0.5"/>
<path d="M628.64 30.81 L631.24 33.41 L628.64 36.01 Z" fill="#f0606e"/>
<path d="M642.52 9.73 L645.12 12.33 L642.52 14.93 L639.92 12.33 Z" fill="#ffffff" stroke="#f0606e" stroke-width="0.5"/>
<path d="M642.52 9.73 L645.12 12.33 L642.52 14.93 Z" fill="#f0606e"/>
<line x1="627" y1="86.1" x2="638.3" y2="86.1" stroke="#a8842a" stroke-width="0.7"/>
<circle cx="632.6" cy="86.1" r="2.1" fill="#ffffff" stroke="#a8842a" stroke-width="0.5"/>
<path d="M632.6 84 A2.1 2.1 0 0 0 632.6 88.2 Z" fill="#a8842a"/>
<line x1="627" y1="95.2" x2="638.3" y2="95.2" stroke="#f0606e" stroke-width="0.7"/>
<path d="M632.6 92.8 L635 95.2 L632.6 97.6 L630.2 95.2 Z" fill="#ffffff" stroke="#f0606e" stroke-width="0.5"/>
<path d="M632.6 92.8 L635 95.2 L632.6 97.6 Z" fill="#f0606e"/>
<text x="640.6" y="88.3" font-size="6.2" fill="#a8842a" stroke="#a8842a" stroke-width="0.12"><tspan font-style="italic">C</tspan><tspan font-size="4.2" dy="1.3">D</tspan></text>
<text x="640.6" y="97.4" font-size="6.2" fill="#f0606e" stroke="#f0606e" stroke-width="0.12"><tspan font-style="italic">P</tspan><tspan font-size="4.2" dy="1.3">D</tspan></text>
<rect x="16.4" y="134.3" width="74.8" height="99.7" fill="none" stroke="#262626" stroke-width="1.1"/>
<line x1="16.4" y1="234" x2="16.4" y2="232" stroke="#262626" stroke-width="0.9"/>
<line x1="41.33" y1="234" x2="41.33" y2="232" stroke="#262626" stroke-width="0.9"/>
<line x1="66.27" y1="234" x2="66.27" y2="232" stroke="#262626" stroke-width="0.9"/>
<line x1="28.87" y1="234" x2="28.87" y2="232.8" stroke="#262626" stroke-width="0.9"/>
<line x1="53.8" y1="234" x2="53.8" y2="232.8" stroke="#262626" stroke-width="0.9"/>
<line x1="78.73" y1="234" x2="78.73" y2="232.8" stroke="#262626" stroke-width="0.9"/>
<text x="16.4" y="241.2" font-size="6.1" text-anchor="middle" font-weight="bold" fill="#1a1a1a" stroke="#1a1a1a" stroke-width="0.12">−0.1</text>
<text x="41.33" y="241.2" font-size="6.1" text-anchor="middle" font-weight="bold" fill="#1a1a1a" stroke="#1a1a1a" stroke-width="0.12">0.0</text>
<text x="66.27" y="241.2" font-size="6.1" text-anchor="middle" font-weight="bold" fill="#1a1a1a" stroke="#1a1a1a" stroke-width="0.12">0.1</text>
<line x1="16.4" y1="226.33" x2="18.4" y2="226.33" stroke="#262626" stroke-width="0.9"/>
<line x1="16.4" y1="203.32" x2="18.4" y2="203.32" stroke="#262626" stroke-width="0.9"/>
<line x1="16.4" y1="180.32" x2="18.4" y2="180.32" stroke="#262626" stroke-width="0.9"/>
<line x1="16.4" y1="157.31" x2="18.4" y2="157.31" stroke="#262626" stroke-width="0.9"/>
<line x1="16.4" y1="134.3" x2="18.4" y2="134.3" stroke="#262626" stroke-width="0.9"/>
<line x1="16.4" y1="214.83" x2="17.6" y2="214.83" stroke="#262626" stroke-width="0.9"/>
<line x1="16.4" y1="191.82" x2="17.6" y2="191.82" stroke="#262626" stroke-width="0.9"/>
<line x1="16.4" y1="168.81" x2="17.6" y2="168.81" stroke="#262626" stroke-width="0.9"/>
<line x1="16.4" y1="145.8" x2="17.6" y2="145.8" stroke="#262626" stroke-width="0.9"/>
<text x="14.4" y="228.49" font-size="6.0" text-anchor="end" font-weight="bold" fill="#1a1a1a" stroke="#1a1a1a" stroke-width="0.12">0</text>
<text x="14.4" y="205.48" font-size="6.0" text-anchor="end" font-weight="bold" fill="#1a1a1a" stroke="#1a1a1a" stroke-width="0.12">3</text>
<text x="14.4" y="182.48" font-size="6.0" text-anchor="end" font-weight="bold" fill="#1a1a1a" stroke="#1a1a1a" stroke-width="0.12">6</text>
<text x="14.4" y="159.47" font-size="6.0" text-anchor="end" font-weight="bold" fill="#1a1a1a" stroke="#1a1a1a" stroke-width="0.12">9</text>
<text x="14.4" y="136.46" font-size="6.0" text-anchor="end" font-weight="bold" fill="#1a1a1a" stroke="#1a1a1a" stroke-width="0.12">12</text>
<text x="54.3" y="249.9" font-size="8.4" text-anchor="middle" font-weight="bold" fill="#1a1a1a" stroke="#1a1a1a" stroke-width="0.22">Time (μs)</text>
<text x="7.4" y="178.3" font-size="8.4" text-anchor="middle" font-weight="bold" fill="#1a1a1a" transform="rotate(-90 7.4 178.3)" stroke="#1a1a1a" stroke-width="0.22">Current (A)</text>
<polyline points="40.34,226.33 40.83,226.33 43.33,202.56 43.88,204.52 44.43,206.14 44.97,207.53 45.52,208.81 46.07,210.12 46.62,211.45 47.17,212.7 47.72,213.83 48.26,214.8 48.81,215.59 49.36,216.2 49.91,216.65 50.46,216.98 51.01,217.23 51.56,217.48 52.1,217.76 52.65,218.1 53.2,218.51 53.75,218.99 54.3,219.49 54.85,219.99 55.4,220.45 55.94,220.82 56.49,221.09 57.04,221.25 57.59,221.34 58.14,221.37 58.69,221.39 59.24,221.43 59.78,221.52 60.33,221.68 60.88,221.91 61.43,222.2 61.98,222.51 62.53,222.8 63.08,223.06 63.62,223.26 64.17,223.38 64.72,223.43 65.27,223.42 65.82,223.39 66.37,223.37 66.91,223.37 67.46,223.42 68.01,223.54 68.56,223.7 69.11,223.9 69.66,224.11 70.21,224.31 70.75,224.46 71.3,224.57 71.85,224.62 72.4,224.62 72.95,224.58 73.5,224.54 74.05,224.5 74.59,224.5 75.14,224.54 75.69,224.63 76.24,224.75 76.79,224.9 77.34,225.04 77.89,225.17 78.43,225.27 78.98,225.32 79.53,225.33 80.08,225.31 80.63,225.27 81.18,225.22 81.73,225.19 82.27,225.19 82.82,225.22 83.37,225.29 83.92,225.39 84.47,225.49 85.02,225.6 85.57,225.68 86.11,225.74 86.66,225.76 87.21,225.75 87.76,225.71 88.31,225.67 88.86,225.63 89.4,225.61 89.95,225.61 90.5,225.64 91.05,225.7" fill="none" stroke="#9ccdee" stroke-width="0.8" stroke-linejoin="round"/>
<polyline points="40.34,226.33 40.83,226.33 43.33,187.98 43.88,191.57 44.43,194.53 44.97,197.06 45.52,199.34 46.07,201.63 46.62,203.92 47.17,206.04 47.72,207.94 48.26,209.56 48.81,210.87 49.36,211.87 49.91,212.6 50.46,213.13 51.01,213.53 51.56,213.9 52.1,214.32 52.65,214.84 53.2,215.47 53.75,216.2 54.3,216.98 54.85,217.74 55.4,218.43 55.94,218.98 56.49,219.37 57.04,219.6 57.59,219.69 58.14,219.7 58.69,219.68 59.24,219.7 59.78,219.81 60.33,220.04 60.88,220.37 61.43,220.79 61.98,221.25 62.53,221.69 63.08,222.07 63.62,222.35 64.17,222.51 64.72,222.56 65.27,222.52 65.82,222.44 66.37,222.37 66.91,222.34 67.46,222.4 68.01,222.55 68.56,222.79 69.11,223.09 69.66,223.41 70.21,223.7 70.75,223.93 71.3,224.08 71.85,224.14 72.4,224.12 72.95,224.04 73.5,223.95 74.05,223.88 74.59,223.85 75.14,223.9 75.69,224.03 76.24,224.21 76.79,224.43 77.34,224.65 77.89,224.85 78.43,224.99 78.98,225.06 79.53,225.06 80.08,225.01 80.63,224.93 81.18,224.85 81.73,224.79 82.27,224.77 82.82,224.82 83.37,224.92 83.92,225.06 84.47,225.23 85.02,225.38 85.57,225.51 86.11,225.59 86.66,225.62 87.21,225.59 87.76,225.53 88.31,225.46 88.86,225.39 89.4,225.34 89.95,225.34 90.5,225.39 91.05,225.47" fill="none" stroke="#3076ba" stroke-width="0.8" stroke-linejoin="round"/>
<polyline points="40.34,226.33 40.83,226.33 43.33,172.65 43.88,178.25 44.43,182.88 44.97,186.81 45.52,190.32 46.07,193.77 46.62,197.17 47.17,200.29 47.72,203.06 48.26,205.41 48.81,207.29 49.36,208.72 49.91,209.75 50.46,210.48 51.01,211.03 51.56,211.52 52.1,212.07 52.65,212.75 53.2,213.59 53.75,214.55 54.3,215.59 54.85,216.6 55.4,217.5 55.94,218.21 56.49,218.69 57.04,218.95 57.59,219.01 58.14,218.96 58.69,218.88 59.24,218.85 59.78,218.95 60.33,219.2 60.88,219.61 61.43,220.14 61.98,220.73 62.53,221.3 63.08,221.78 63.62,222.12 64.17,222.3 64.72,222.32 65.27,222.22 65.82,222.07 66.37,221.92 66.91,221.85 67.46,221.89 68.01,222.07 68.56,222.37 69.11,222.75 69.66,223.16 70.21,223.53 70.75,223.83 71.3,224.01 71.85,224.06 72.4,224 72.95,223.87 73.5,223.71 74.05,223.58 74.59,223.53 75.14,223.57 75.69,223.72 76.24,223.95 76.79,224.24 77.34,224.53 77.89,224.79 78.43,224.96 78.98,225.05 79.53,225.03 80.08,224.95 80.63,224.81 81.18,224.68 81.73,224.58 82.27,224.55 82.82,224.6 83.37,224.73 83.92,224.91 84.47,225.13 85.02,225.34 85.57,225.5 86.11,225.61 86.66,225.63 87.21,225.59 87.76,225.49 88.31,225.37 88.86,225.27 89.4,225.2 89.95,225.19 90.5,225.24 91.05,225.35" fill="none" stroke="#a6da8e" stroke-width="0.8" stroke-linejoin="round"/>
<polyline points="40.34,226.33 40.83,226.33 43.33,162.68 43.88,169.67 44.43,175.45 44.97,180.33 45.52,184.68 46.07,188.92 46.62,193.07 47.17,196.86 47.72,200.2 48.26,203.04 48.81,205.3 49.36,207.02 49.91,208.24 50.46,209.1 51.01,209.74 51.56,210.3 52.1,210.94 52.65,211.72 53.2,212.68 53.75,213.79 54.3,214.98 54.85,216.14 55.4,217.17 55.94,217.98 56.49,218.52 57.04,218.79 57.59,218.83 58.14,218.73 58.69,218.6 59.24,218.53 59.78,218.6 60.33,218.87 60.88,219.32 61.43,219.92 61.98,220.59 62.53,221.24 63.08,221.78 63.62,222.15 64.17,222.33 64.72,222.33 65.27,222.19 65.82,221.98 66.37,221.78 66.91,221.67 67.46,221.7 68.01,221.89 68.56,222.22 69.11,222.65 69.66,223.11 70.21,223.54 70.75,223.87 71.3,224.07 71.85,224.11 72.4,224.02 72.95,223.85 73.5,223.65 74.05,223.48 74.59,223.4 75.14,223.44 75.69,223.6 76.24,223.87 76.79,224.19 77.34,224.53 77.89,224.81 78.43,225.01 78.98,225.1 79.53,225.08 80.08,224.96 80.63,224.79 81.18,224.62 81.73,224.5 82.27,224.45 82.82,224.5 83.37,224.65 83.92,224.86 84.47,225.11 85.02,225.35 85.57,225.54 86.11,225.65 86.66,225.68 87.21,225.62 87.76,225.5 88.31,225.35 88.86,225.22 89.4,225.13 89.95,225.11 90.5,225.17 91.05,225.3" fill="none" stroke="#30a03c" stroke-width="0.8" stroke-linejoin="round"/>
<polyline points="16.4,226.33 40.83,226.33 43.33,157.31 43.88,164.9 44.43,171.15 44.97,176.45 45.52,181.17 46.07,185.77 46.62,190.26 47.17,194.37 47.72,198 48.26,201.07 48.81,203.53 49.36,205.39 49.91,206.72 50.46,207.65 51.01,208.34 51.56,208.95 52.1,209.64 52.65,210.48 53.2,211.53 53.75,212.73 54.3,214.02 54.85,215.29 55.4,216.4 55.94,217.28 56.49,217.86 57.04,218.15 57.59,218.2 58.14,218.09 58.69,217.94 59.24,217.87 59.78,217.95 60.33,218.24 60.88,218.73 61.43,219.38 61.98,220.1 62.53,220.81 63.08,221.39 63.62,221.8 64.17,222 64.72,221.99 65.27,221.84 65.82,221.61 66.37,221.4 66.91,221.28 67.46,221.31 68.01,221.51 68.56,221.87 69.11,222.34 69.66,222.84 70.21,223.31 70.75,223.67 71.3,223.87 71.85,223.92 72.4,223.83 72.95,223.64 73.5,223.42 74.05,223.24 74.59,223.15 75.14,223.19 75.69,223.37 76.24,223.66 76.79,224.01 77.34,224.37 77.89,224.69 78.43,224.9 78.98,225 79.53,224.97 80.08,224.85 80.63,224.66 81.18,224.48 81.73,224.35 82.27,224.29 82.82,224.35 83.37,224.51 83.92,224.74 84.47,225.01 85.02,225.27 85.57,225.47 86.11,225.6 86.66,225.62 87.21,225.56 87.76,225.43 88.31,225.27 88.86,225.13 89.4,225.03 89.95,225.01 90.5,225.07 91.05,225.21" fill="none" stroke="#f49696" stroke-width="0.8" stroke-linejoin="round"/>
<rect x="88.6" y="134.3" width="122.8" height="99.7" fill="#ffffff" stroke="none" stroke-width="0.8"/>
<rect x="88.6" y="134.3" width="122.8" height="99.7" fill="none" stroke="#262626" stroke-width="1.1"/>
<line x1="88.6" y1="234" x2="88.6" y2="232" stroke="#262626" stroke-width="0.9"/>
<line x1="119.3" y1="234" x2="119.3" y2="232" stroke="#262626" stroke-width="0.9"/>
<line x1="150" y1="234" x2="150" y2="232" stroke="#262626" stroke-width="0.9"/>
<line x1="180.7" y1="234" x2="180.7" y2="232" stroke="#262626" stroke-width="0.9"/>
<line x1="211.4" y1="234" x2="211.4" y2="232" stroke="#262626" stroke-width="0.9"/>
<line x1="103.95" y1="234" x2="103.95" y2="232.8" stroke="#262626" stroke-width="0.9"/>
<line x1="134.65" y1="234" x2="134.65" y2="232.8" stroke="#262626" stroke-width="0.9"/>
<line x1="165.35" y1="234" x2="165.35" y2="232.8" stroke="#262626" stroke-width="0.9"/>
<line x1="196.05" y1="234" x2="196.05" y2="232.8" stroke="#262626" stroke-width="0.9"/>
<text x="88.6" y="241.4" font-size="6.7" text-anchor="middle" font-weight="bold" fill="#1a1a1a" stroke="#1a1a1a" stroke-width="0.22">−1.0</text>
<text x="119.3" y="241.4" font-size="6.7" text-anchor="middle" font-weight="bold" fill="#1a1a1a" stroke="#1a1a1a" stroke-width="0.22">−0.5</text>
<text x="150" y="241.4" font-size="6.7" text-anchor="middle" font-weight="bold" fill="#1a1a1a" stroke="#1a1a1a" stroke-width="0.22">0.0</text>
<text x="180.7" y="241.4" font-size="6.7" text-anchor="middle" font-weight="bold" fill="#1a1a1a" stroke="#1a1a1a" stroke-width="0.22">0.5</text>
<text x="211.4" y="241.4" font-size="6.7" text-anchor="middle" font-weight="bold" fill="#1a1a1a" stroke="#1a1a1a" stroke-width="0.22">1.0</text>
<line x1="88.6" y1="226.33" x2="90.6" y2="226.33" stroke="#262626" stroke-width="0.9"/>
<line x1="88.6" y1="210.99" x2="90.6" y2="210.99" stroke="#262626" stroke-width="0.9"/>
<line x1="88.6" y1="195.65" x2="90.6" y2="195.65" stroke="#262626" stroke-width="0.9"/>
<line x1="88.6" y1="180.32" x2="90.6" y2="180.32" stroke="#262626" stroke-width="0.9"/>
<line x1="88.6" y1="164.98" x2="90.6" y2="164.98" stroke="#262626" stroke-width="0.9"/>
<line x1="88.6" y1="149.64" x2="90.6" y2="149.64" stroke="#262626" stroke-width="0.9"/>
<line x1="88.6" y1="218.66" x2="89.8" y2="218.66" stroke="#262626" stroke-width="0.9"/>
<line x1="88.6" y1="203.32" x2="89.8" y2="203.32" stroke="#262626" stroke-width="0.9"/>
<line x1="88.6" y1="187.98" x2="89.8" y2="187.98" stroke="#262626" stroke-width="0.9"/>
<line x1="88.6" y1="172.65" x2="89.8" y2="172.65" stroke="#262626" stroke-width="0.9"/>
<line x1="88.6" y1="157.31" x2="89.8" y2="157.31" stroke="#262626" stroke-width="0.9"/>
<line x1="88.6" y1="141.97" x2="89.8" y2="141.97" stroke="#262626" stroke-width="0.9"/>
<text x="86.6" y="228.67" font-size="6.5" text-anchor="end" font-weight="bold" fill="#1a1a1a" stroke="#1a1a1a" stroke-width="0.22">0</text>
<text x="86.6" y="213.33" font-size="6.5" text-anchor="end" font-weight="bold" fill="#1a1a1a" stroke="#1a1a1a" stroke-width="0.22">1</text>
<text x="86.6" y="197.99" font-size="6.5" text-anchor="end" font-weight="bold" fill="#1a1a1a" stroke="#1a1a1a" stroke-width="0.22">2</text>
<text x="86.6" y="182.66" font-size="6.5" text-anchor="end" font-weight="bold" fill="#1a1a1a" stroke="#1a1a1a" stroke-width="0.22">3</text>
<text x="86.6" y="167.32" font-size="6.5" text-anchor="end" font-weight="bold" fill="#1a1a1a" stroke="#1a1a1a" stroke-width="0.22">4</text>
<text x="86.6" y="151.98" font-size="6.5" text-anchor="end" font-weight="bold" fill="#1a1a1a" stroke="#1a1a1a" stroke-width="0.22">5</text>
<text x="151.8" y="249.9" font-size="8.4" text-anchor="middle" font-weight="bold" fill="#1a1a1a" stroke="#1a1a1a" stroke-width="0.22">Time (μs)</text>
<text x="77.8" y="181" font-size="8.4" font-weight="bold" fill="#1a1a1a" text-anchor="middle" transform="rotate(-90 77.8 181)" stroke="#1a1a1a" stroke-width="0.22"><tspan font-style="italic">W</tspan><tspan font-size="5.6" dy="1.6">d</tspan><tspan dy="-1.6"> (J·cm</tspan><tspan font-size="5.6" dy="-3">−3</tspan><tspan dy="3">)</tspan></text>
<polyline points="150,226.33 150.61,226.33 150.61,226.33 151.12,222.53 151.63,220.07 152.14,218.49 152.65,217.46 153.16,216.8 153.67,216.37 154.18,216.09 154.69,215.91 155.2,215.79 155.71,215.72 156.22,215.67 156.73,215.64 157.24,215.62 157.75,215.6 158.26,215.59 158.77,215.59 159.28,215.58 159.79,215.58 160.3,215.58 160.81,215.57 161.32,215.57 161.83,215.57 162.34,215.57 162.84,215.57 163.35,215.57 163.86,215.57 164.37,215.57 164.88,215.56 165.39,215.56 165.9,215.56 166.41,215.56 166.92,215.56 167.43,215.56 167.94,215.56 168.45,215.56 168.96,215.56 169.47,215.55 169.98,215.55 170.49,215.55 171,215.55 171.51,215.55 172.02,215.55 172.53,215.55 173.04,215.55 173.55,215.55 174.06,215.54 174.57,215.54 175.08,215.54 175.59,215.54 176.09,215.54 176.6,215.54 177.11,215.54 177.62,215.54 178.13,215.54 178.64,215.54 179.15,215.53 179.66,215.53 180.17,215.53 180.68,215.53 181.19,215.53 181.7,215.53 182.21,215.53 182.72,215.53 183.23,215.53 183.74,215.52 184.25,215.52 184.76,215.52 185.27,215.52 185.78,215.52 186.29,215.52 186.8,215.52 187.31,215.52 187.82,215.52 188.33,215.51 188.84,215.51 189.35,215.51 189.85,215.51 190.36,215.51 190.87,215.51 191.38,215.51 191.89,215.51 192.4,215.51 192.91,215.51 193.42,215.5 193.93,215.5 194.44,215.5 194.95,215.5 195.46,215.5 195.97,215.5 196.48,215.5 196.99,215.5 197.5,215.5 198.01,215.49 198.52,215.49 199.03,215.49 199.54,215.49 200.05,215.49 200.56,215.49 201.07,215.49 201.58,215.49 202.09,215.49 202.6,215.48 203.1,215.48 203.61,215.48 204.12,215.48 204.63,215.48 205.14,215.48 205.65,215.48 206.16,215.48 206.67,215.48 207.18,215.48 207.69,215.47 208.2,215.47 208.71,215.47 209.22,215.47 209.73,215.47 210.24,215.47 210.75,215.47 211.26,215.47" fill="none" stroke="#9ccdee" stroke-width="0.9" stroke-linejoin="round"/>
<polyline points="150,226.33 150.61,226.33 150.61,226.33 151.12,216.12 151.63,209.53 152.14,205.26 152.65,202.51 153.16,200.73 153.67,199.58 154.18,198.83 154.69,198.35 155.2,198.03 155.71,197.83 156.22,197.7 156.73,197.61 157.24,197.56 157.75,197.52 158.26,197.49 158.77,197.48 159.28,197.46 159.79,197.45 160.3,197.45 160.81,197.44 161.32,197.44 161.83,197.43 162.34,197.43 162.84,197.43 163.35,197.42 163.86,197.42 164.37,197.42 164.88,197.41 165.39,197.41 165.9,197.41 166.41,197.41 166.92,197.4 167.43,197.4 167.94,197.4 168.45,197.39 168.96,197.39 169.47,197.39 169.98,197.39 170.49,197.38 171,197.38 171.51,197.38 172.02,197.37 172.53,197.37 173.04,197.37 173.55,197.37 174.06,197.36 174.57,197.36 175.08,197.36 175.59,197.35 176.09,197.35 176.6,197.35 177.11,197.35 177.62,197.34 178.13,197.34 178.64,197.34 179.15,197.33 179.66,197.33 180.17,197.33 180.68,197.33 181.19,197.32 181.7,197.32 182.21,197.32 182.72,197.31 183.23,197.31 183.74,197.31 184.25,197.3 184.76,197.3 185.27,197.3 185.78,197.3 186.29,197.29 186.8,197.29 187.31,197.29 187.82,197.28 188.33,197.28 188.84,197.28 189.35,197.28 189.85,197.27 190.36,197.27 190.87,197.27 191.38,197.26 191.89,197.26 192.4,197.26 192.91,197.26 193.42,197.25 193.93,197.25 194.44,197.25 194.95,197.24 195.46,197.24 195.97,197.24 196.48,197.24 196.99,197.23 197.5,197.23 198.01,197.23 198.52,197.22 199.03,197.22 199.54,197.22 200.05,197.22 200.56,197.21 201.07,197.21 201.58,197.21 202.09,197.2 202.6,197.2 203.1,197.2 203.61,197.2 204.12,197.19 204.63,197.19 205.14,197.19 205.65,197.18 206.16,197.18 206.67,197.18 207.18,197.18 207.69,197.17 208.2,197.17 208.71,197.17 209.22,197.16 209.73,197.16 210.24,197.16 210.75,197.16 211.26,197.15" fill="none" stroke="#3076ba" stroke-width="0.9" stroke-linejoin="round"/>
<polyline points="150,226.33 150.61,226.33 150.61,226.33 151.12,209.12 151.63,198 152.14,190.81 152.65,186.16 153.16,183.16 153.67,181.22 154.18,179.96 154.69,179.15 155.2,178.62 155.71,178.28 156.22,178.05 156.73,177.91 157.24,177.81 157.75,177.75 158.26,177.7 158.77,177.68 159.28,177.65 159.79,177.64 160.3,177.63 160.81,177.62 161.32,177.61 161.83,177.6 162.34,177.6 162.84,177.59 163.35,177.59 163.86,177.58 164.37,177.58 164.88,177.57 165.39,177.57 165.9,177.56 166.41,177.56 166.92,177.55 167.43,177.55 167.94,177.54 168.45,177.54 168.96,177.53 169.47,177.53 169.98,177.52 170.49,177.52 171,177.51 171.51,177.51 172.02,177.5 172.53,177.5 173.04,177.49 173.55,177.49 174.06,177.49 174.57,177.48 175.08,177.48 175.59,177.47 176.09,177.47 176.6,177.46 177.11,177.46 177.62,177.45 178.13,177.45 178.64,177.44 179.15,177.44 179.66,177.43 180.17,177.43 180.68,177.42 181.19,177.42 181.7,177.41 182.21,177.41 182.72,177.4 183.23,177.4 183.74,177.39 184.25,177.39 184.76,177.38 185.27,177.38 185.78,177.37 186.29,177.37 186.8,177.36 187.31,177.36 187.82,177.35 188.33,177.35 188.84,177.34 189.35,177.34 189.85,177.33 190.36,177.33 190.87,177.33 191.38,177.32 191.89,177.32 192.4,177.31 192.91,177.31 193.42,177.3 193.93,177.3 194.44,177.29 194.95,177.29 195.46,177.28 195.97,177.28 196.48,177.27 196.99,177.27 197.5,177.26 198.01,177.26 198.52,177.25 199.03,177.25 199.54,177.24 200.05,177.24 200.56,177.23 201.07,177.23 201.58,177.22 202.09,177.22 202.6,177.21 203.1,177.21 203.61,177.2 204.12,177.2 204.63,177.19 205.14,177.19 205.65,177.18 206.16,177.18 206.67,177.18 207.18,177.17 207.69,177.17 208.2,177.16 208.71,177.16 209.22,177.15 209.73,177.15 210.24,177.14 210.75,177.14 211.26,177.13" fill="none" stroke="#a6da8e" stroke-width="0.9" stroke-linejoin="round"/>
<polyline points="150,226.33 150.61,226.33 150.61,226.33 151.12,201.46 151.63,185.4 152.14,175.01 152.65,168.3 153.16,163.96 153.67,161.15 154.18,159.33 154.69,158.16 155.2,157.4 155.71,156.9 156.22,156.58 156.73,156.37 157.24,156.23 157.75,156.14 158.26,156.08 158.77,156.03 159.28,156 159.79,155.98 160.3,155.97 160.81,155.95 161.32,155.94 161.83,155.93 162.34,155.92 162.84,155.91 163.35,155.91 163.86,155.9 164.37,155.89 164.88,155.89 165.39,155.88 165.9,155.87 166.41,155.86 166.92,155.86 167.43,155.85 167.94,155.84 168.45,155.84 168.96,155.83 169.47,155.82 169.98,155.81 170.49,155.81 171,155.8 171.51,155.79 172.02,155.79 172.53,155.78 173.04,155.77 173.55,155.77 174.06,155.76 174.57,155.75 175.08,155.74 175.59,155.74 176.09,155.73 176.6,155.72 177.11,155.72 177.62,155.71 178.13,155.7 178.64,155.7 179.15,155.69 179.66,155.68 180.17,155.67 180.68,155.67 181.19,155.66 181.7,155.65 182.21,155.65 182.72,155.64 183.23,155.63 183.74,155.63 184.25,155.62 184.76,155.61 185.27,155.6 185.78,155.6 186.29,155.59 186.8,155.58 187.31,155.58 187.82,155.57 188.33,155.56 188.84,155.56 189.35,155.55 189.85,155.54 190.36,155.53 190.87,155.53 191.38,155.52 191.89,155.51 192.4,155.51 192.91,155.5 193.42,155.49 193.93,155.49 194.44,155.48 194.95,155.47 195.46,155.46 195.97,155.46 196.48,155.45 196.99,155.44 197.5,155.44 198.01,155.43 198.52,155.42 199.03,155.42 199.54,155.41 200.05,155.4 200.56,155.39 201.07,155.39 201.58,155.38 202.09,155.37 202.6,155.37 203.1,155.36 203.61,155.35 204.12,155.35 204.63,155.34 205.14,155.33 205.65,155.32 206.16,155.32 206.67,155.31 207.18,155.3 207.69,155.3 208.2,155.29 208.71,155.28 209.22,155.28 209.73,155.27 210.24,155.26 210.75,155.25 211.26,155.25" fill="none" stroke="#30a03c" stroke-width="0.9" stroke-linejoin="round"/>
<polyline points="88.6,226.33 150.61,226.33 150.61,226.33 151.12,197.39 151.63,178.69 152.14,166.61 152.65,158.79 153.16,153.74 153.67,150.48 154.18,148.36 154.69,147 155.2,146.11 155.71,145.53 156.22,145.16 156.73,144.91 157.24,144.75 157.75,144.64 158.26,144.57 158.77,144.52 159.28,144.49 159.79,144.46 160.3,144.44 160.81,144.43 161.32,144.41 161.83,144.4 162.34,144.39 162.84,144.38 163.35,144.37 163.86,144.37 164.37,144.36 164.88,144.35 165.39,144.34 165.9,144.33 166.41,144.32 166.92,144.32 167.43,144.31 167.94,144.3 168.45,144.29 168.96,144.28 169.47,144.28 169.98,144.27 170.49,144.26 171,144.25 171.51,144.24 172.02,144.23 172.53,144.23 173.04,144.22 173.55,144.21 174.06,144.2 174.57,144.19 175.08,144.19 175.59,144.18 176.09,144.17 176.6,144.16 177.11,144.15 177.62,144.15 178.13,144.14 178.64,144.13 179.15,144.12 179.66,144.11 180.17,144.1 180.68,144.1 181.19,144.09 181.7,144.08 182.21,144.07 182.72,144.06 183.23,144.06 183.74,144.05 184.25,144.04 184.76,144.03 185.27,144.02 185.78,144.01 186.29,144.01 186.8,144 187.31,143.99 187.82,143.98 188.33,143.97 188.84,143.97 189.35,143.96 189.85,143.95 190.36,143.94 190.87,143.93 191.38,143.93 191.89,143.92 192.4,143.91 192.91,143.9 193.42,143.89 193.93,143.88 194.44,143.88 194.95,143.87 195.46,143.86 195.97,143.85 196.48,143.84 196.99,143.84 197.5,143.83 198.01,143.82 198.52,143.81 199.03,143.8 199.54,143.8 200.05,143.79 200.56,143.78 201.07,143.77 201.58,143.76 202.09,143.75 202.6,143.75 203.1,143.74 203.61,143.73 204.12,143.72 204.63,143.71 205.14,143.71 205.65,143.7 206.16,143.69 206.67,143.68 207.18,143.67 207.69,143.66 208.2,143.66 208.71,143.65 209.22,143.64 209.73,143.63 210.24,143.62 210.75,143.62 211.26,143.61" fill="none" stroke="#f49696" stroke-width="0.9" stroke-linejoin="round"/>
<line x1="152.39" y1="135.3" x2="152.39" y2="234" stroke="#e8603f" stroke-width="0.7" stroke-dasharray="2 1"/>
<text x="155.0" y="142.4" font-size="5.6" font-weight="bold" fill="#e8603f" stroke="#e8603f" stroke-width="0.12"><tspan font-style="italic">t</tspan><tspan font-size="3.3" dy="1">0.9</tspan><tspan dy="-1"> = 39 ns</tspan></text>
<text x="187.8" y="231" font-size="5.4" text-anchor="start" font-weight="bold" fill="#1a1a1a" stroke="#1a1a1a" stroke-width="0.08">@ 300 Ω</text>
<line x1="92.2" y1="140.4" x2="103.6" y2="140.4" stroke="#9ccdee" stroke-width="0.85"/>
<text x="105.6" y="142.4" font-size="5.6" font-weight="bold" fill="#1a1a1a" stroke="#1a1a1a" stroke-width="0.12">100 kV·cm<tspan font-size="3.8" dy="-2">−1</tspan></text>
<line x1="92.2" y1="151.7" x2="103.6" y2="151.7" stroke="#3076ba" stroke-width="0.85"/>
<text x="105.6" y="153.7" font-size="5.6" font-weight="bold" fill="#1a1a1a" stroke="#1a1a1a" stroke-width="0.12">200 kV·cm<tspan font-size="3.8" dy="-2">−1</tspan></text>
<line x1="92.2" y1="162.4" x2="103.6" y2="162.4" stroke="#a6da8e" stroke-width="0.85"/>
<text x="105.6" y="164.4" font-size="5.6" font-weight="bold" fill="#1a1a1a" stroke="#1a1a1a" stroke-width="0.12">300 kV·cm<tspan font-size="3.8" dy="-2">−1</tspan></text>
<line x1="92.2" y1="173.3" x2="103.6" y2="173.3" stroke="#30a03c" stroke-width="0.85"/>
<text x="105.6" y="175.3" font-size="5.6" font-weight="bold" fill="#1a1a1a" stroke="#1a1a1a" stroke-width="0.12">400 kV·cm<tspan font-size="3.8" dy="-2">−1</tspan></text>
<line x1="92.2" y1="184.4" x2="103.6" y2="184.4" stroke="#f49696" stroke-width="0.85"/>
<text x="105.6" y="186.4" font-size="5.6" font-weight="bold" fill="#1a1a1a" stroke="#1a1a1a" stroke-width="0.12">450 kV·cm<tspan font-size="3.8" dy="-2">−1</tspan></text>
<rect x="233.5" y="134.2" width="124.4" height="100" fill="none" stroke="#262626" stroke-width="1.1"/>
<line x1="247.32" y1="234.2" x2="247.32" y2="232.2" stroke="#262626" stroke-width="0.9"/>
<line x1="274.97" y1="234.2" x2="274.97" y2="232.2" stroke="#262626" stroke-width="0.9"/>
<line x1="302.61" y1="234.2" x2="302.61" y2="232.2" stroke="#262626" stroke-width="0.9"/>
<line x1="330.26" y1="234.2" x2="330.26" y2="232.2" stroke="#262626" stroke-width="0.9"/>
<line x1="357.9" y1="234.2" x2="357.9" y2="232.2" stroke="#262626" stroke-width="0.9"/>
<line x1="233.5" y1="234.2" x2="233.5" y2="233" stroke="#262626" stroke-width="0.9"/>
<line x1="261.14" y1="234.2" x2="261.14" y2="233" stroke="#262626" stroke-width="0.9"/>
<line x1="288.79" y1="234.2" x2="288.79" y2="233" stroke="#262626" stroke-width="0.9"/>
<line x1="316.43" y1="234.2" x2="316.43" y2="233" stroke="#262626" stroke-width="0.9"/>
<line x1="344.08" y1="234.2" x2="344.08" y2="233" stroke="#262626" stroke-width="0.9"/>
<text x="247.32" y="241.6" font-size="6.7" text-anchor="middle" font-weight="bold" fill="#1a1a1a" stroke="#1a1a1a" stroke-width="0.22">100</text>
<text x="274.97" y="241.6" font-size="6.7" text-anchor="middle" font-weight="bold" fill="#1a1a1a" stroke="#1a1a1a" stroke-width="0.22">200</text>
<text x="302.61" y="241.6" font-size="6.7" text-anchor="middle" font-weight="bold" fill="#1a1a1a" stroke="#1a1a1a" stroke-width="0.22">300</text>
<text x="330.26" y="241.6" font-size="6.7" text-anchor="middle" font-weight="bold" fill="#1a1a1a" stroke="#1a1a1a" stroke-width="0.22">400</text>
<text x="357.9" y="241.6" font-size="6.7" text-anchor="middle" font-weight="bold" fill="#1a1a1a" stroke="#1a1a1a" stroke-width="0.22">500</text>
<line x1="233.5" y1="234.2" x2="235.5" y2="234.2" stroke="#262626" stroke-width="0.9"/>
<line x1="233.5" y1="200.87" x2="235.5" y2="200.87" stroke="#262626" stroke-width="0.9"/>
<line x1="233.5" y1="167.53" x2="235.5" y2="167.53" stroke="#262626" stroke-width="0.9"/>
<line x1="233.5" y1="134.2" x2="235.5" y2="134.2" stroke="#262626" stroke-width="0.9"/>
<line x1="233.5" y1="217.53" x2="234.7" y2="217.53" stroke="#262626" stroke-width="0.9"/>
<line x1="233.5" y1="184.2" x2="234.7" y2="184.2" stroke="#262626" stroke-width="0.9"/>
<line x1="233.5" y1="150.87" x2="234.7" y2="150.87" stroke="#262626" stroke-width="0.9"/>
<text x="231.5" y="236.54" font-size="6.5" text-anchor="end" font-weight="bold" fill="#1a1a1a" stroke="#1a1a1a" stroke-width="0.22">0</text>
<text x="231.5" y="203.21" font-size="6.5" text-anchor="end" font-weight="bold" fill="#1a1a1a" stroke="#1a1a1a" stroke-width="0.22">2</text>
<text x="231.5" y="169.87" font-size="6.5" text-anchor="end" font-weight="bold" fill="#1a1a1a" stroke="#1a1a1a" stroke-width="0.22">4</text>
<text x="231.5" y="136.54" font-size="6.5" text-anchor="end" font-weight="bold" fill="#1a1a1a" stroke="#1a1a1a" stroke-width="0.22">6</text>
<line x1="357.9" y1="234.2" x2="355.9" y2="234.2" stroke="#262626" stroke-width="0.9"/>
<line x1="357.9" y1="200.87" x2="355.9" y2="200.87" stroke="#262626" stroke-width="0.9"/>
<line x1="357.9" y1="167.53" x2="355.9" y2="167.53" stroke="#262626" stroke-width="0.9"/>
<line x1="357.9" y1="134.2" x2="355.9" y2="134.2" stroke="#262626" stroke-width="0.9"/>
<line x1="357.9" y1="217.53" x2="356.7" y2="217.53" stroke="#262626" stroke-width="0.9"/>
<line x1="357.9" y1="184.2" x2="356.7" y2="184.2" stroke="#262626" stroke-width="0.9"/>
<line x1="357.9" y1="150.87" x2="356.7" y2="150.87" stroke="#262626" stroke-width="0.9"/>
<text x="359.9" y="236.61" font-size="6.7" text-anchor="start" font-weight="bold" fill="#1a1a1a" stroke="#1a1a1a" stroke-width="0.22">0</text>
<text x="359.9" y="203.28" font-size="6.7" text-anchor="start" font-weight="bold" fill="#1a1a1a" stroke="#1a1a1a" stroke-width="0.22">20</text>
<text x="359.9" y="169.95" font-size="6.7" text-anchor="start" font-weight="bold" fill="#1a1a1a" stroke="#1a1a1a" stroke-width="0.22">40</text>
<text x="359.9" y="136.61" font-size="6.7" text-anchor="start" font-weight="bold" fill="#1a1a1a" stroke="#1a1a1a" stroke-width="0.22">60</text>
<text x="296.4" y="250.2" font-size="8.4" font-weight="bold" fill="#1a1a1a" text-anchor="middle" stroke="#1a1a1a" stroke-width="0.22"><tspan font-style="italic">E</tspan> (kV·cm<tspan font-size="5.6" dy="-3">−1</tspan><tspan dy="3">)</tspan></text>
<text x="223.4" y="184" font-size="8.4" font-weight="bold" fill="#1a1a1a" text-anchor="middle" transform="rotate(-90 223.4 184)" stroke="#1a1a1a" stroke-width="0.22"><tspan font-style="italic">W</tspan><tspan font-size="5.6" dy="1.6">d</tspan><tspan dy="-1.6"> (J·cm</tspan><tspan font-size="5.6" dy="-3">−3</tspan><tspan dy="3">)</tspan></text>
<text x="377.0" y="184" font-size="8.4" font-weight="bold" fill="#1a1a1a" text-anchor="middle" transform="rotate(-90 377.0 184)" stroke="#1a1a1a" stroke-width="0.22"><tspan font-style="italic">t</tspan><tspan font-size="5.6" dy="1.6">0.9</tspan><tspan dy="-1.6"> (ns)</tspan></text>
<polyline points="247.32,222.53 274.97,202.03 302.61,180.53 330.26,157.53 344.08,145.37" fill="none" stroke="#b39643" stroke-width="0.95" stroke-linejoin="round"/>
<polyline points="247.32,140.03 274.97,148.37 302.61,155.37 330.26,162.03 344.08,169.53" fill="none" stroke="#e8575f" stroke-width="0.95" stroke-linejoin="round"/>
<path d="M247.32 219.93 L249.92 222.53 L247.32 225.13 L244.72 222.53 Z" fill="#ffffff" stroke="#b39643" stroke-width="0.5"/>
<path d="M244.72 222.53 L247.32 219.93 L249.92 222.53 Z" fill="#b39643"/>
<path d="M274.97 199.43 L277.57 202.03 L274.97 204.63 L272.37 202.03 Z" fill="#ffffff" stroke="#b39643" stroke-width="0.5"/>
<path d="M272.37 202.03 L274.97 199.43 L277.57 202.03 Z" fill="#b39643"/>
<path d="M302.61 177.93 L305.21 180.53 L302.61 183.13 L300.01 180.53 Z" fill="#ffffff" stroke="#b39643" stroke-width="0.5"/>
<path d="M300.01 180.53 L302.61 177.93 L305.21 180.53 Z" fill="#b39643"/>
<path d="M330.26 154.93 L332.86 157.53 L330.26 160.13 L327.66 157.53 Z" fill="#ffffff" stroke="#b39643" stroke-width="0.5"/>
<path d="M327.66 157.53 L330.26 154.93 L332.86 157.53 Z" fill="#b39643"/>
<path d="M344.08 142.77 L346.68 145.37 L344.08 147.97 L341.48 145.37 Z" fill="#ffffff" stroke="#b39643" stroke-width="0.5"/>
<path d="M341.48 145.37 L344.08 142.77 L346.68 145.37 Z" fill="#b39643"/>
<circle cx="247.32" cy="140.03" r="2.3" fill="#ffffff" stroke="#e8575f" stroke-width="0.5"/>
<path d="M245.02 140.03 A2.3 2.3 0 0 1 249.62 140.03 Z" fill="#e8575f"/>
<circle cx="274.97" cy="148.37" r="2.3" fill="#ffffff" stroke="#e8575f" stroke-width="0.5"/>
<path d="M272.67 148.37 A2.3 2.3 0 0 1 277.27 148.37 Z" fill="#e8575f"/>
<circle cx="302.61" cy="155.37" r="2.3" fill="#ffffff" stroke="#e8575f" stroke-width="0.5"/>
<path d="M300.31 155.37 A2.3 2.3 0 0 1 304.91 155.37 Z" fill="#e8575f"/>
<circle cx="330.26" cy="162.03" r="2.3" fill="#ffffff" stroke="#e8575f" stroke-width="0.5"/>
<path d="M327.96 162.03 A2.3 2.3 0 0 1 332.56 162.03 Z" fill="#e8575f"/>
<circle cx="344.08" cy="169.53" r="2.3" fill="#ffffff" stroke="#e8575f" stroke-width="0.5"/>
<path d="M341.78 169.53 A2.3 2.3 0 0 1 346.38 169.53 Z" fill="#e8575f"/>
<line x1="332.9" y1="215.7" x2="344.9" y2="215.7" stroke="#b39643" stroke-width="0.7"/>
<path d="M338.7 213.3 L341.1 215.7 L338.7 218.1 L336.3 215.7 Z" fill="#ffffff" stroke="#b39643" stroke-width="0.5"/>
<path d="M336.3 215.7 L338.7 213.3 L341.1 215.7 Z" fill="#b39643"/>
<line x1="332.9" y1="225.4" x2="344.9" y2="225.4" stroke="#e8575f" stroke-width="0.7"/>
<circle cx="338.7" cy="225.4" r="2.1" fill="#ffffff" stroke="#e8575f" stroke-width="0.5"/>
<path d="M336.6 225.4 A2.1 2.1 0 0 1 340.8 225.4 Z" fill="#e8575f"/>
<text x="346.6" y="217.8" font-size="5.8" fill="#b39643" stroke="#b39643" stroke-width="0.12"><tspan font-style="italic">W</tspan><tspan font-size="3.9" dy="1.3">d</tspan></text>
<text x="346.6" y="227.5" font-size="5.8" fill="#e8575f" stroke="#e8575f" stroke-width="0.12"><tspan font-style="italic">t</tspan><tspan font-size="3.9" dy="1.3">0.9</tspan></text>
<rect x="405.2" y="216.59" width="5.35" height="18.11" fill="#96d2a7" stroke="none" stroke-width="0.8"/>
<rect x="410.55" y="205.81" width="5.35" height="28.89" fill="#87a8da" stroke="none" stroke-width="0.8"/>
<text x="409.77" y="215.19" font-size="5.8" font-weight="bold" fill="#1a1a1a" transform="rotate(-90 409.77 215.19)" stroke="#1a1a1a" stroke-width="0.12">E-KNN-BST</text>
<rect x="417.52" y="204.23" width="5.35" height="30.47" fill="#96d2a7" stroke="none" stroke-width="0.8"/>
<rect x="422.87" y="192.74" width="5.35" height="41.96" fill="#87a8da" stroke="none" stroke-width="0.8"/>
<text x="422.09" y="202.83" font-size="5.8" font-weight="bold" fill="#1a1a1a" transform="rotate(-90 422.09 202.83)" stroke="#1a1a1a" stroke-width="0.12">KNN-BLN</text>
<rect x="429.84" y="213.86" width="5.35" height="20.84" fill="#96d2a7" stroke="none" stroke-width="0.8"/>
<rect x="435.19" y="217.74" width="5.35" height="16.96" fill="#87a8da" stroke="none" stroke-width="0.8"/>
<text x="434.41" y="212.46" font-size="5.8" font-weight="bold" fill="#1a1a1a" transform="rotate(-90 434.41 212.46)" stroke="#1a1a1a" stroke-width="0.12">BNT-SBT-AN</text>
<rect x="442.16" y="187.27" width="5.35" height="47.43" fill="#96d2a7" stroke="none" stroke-width="0.8"/>
<rect x="447.51" y="184.4" width="5.35" height="50.3" fill="#87a8da" stroke="none" stroke-width="0.8"/>
<text x="446.73" y="185.87" font-size="5.8" font-weight="bold" fill="#1a1a1a" transform="rotate(-90 446.73 185.87)" stroke="#1a1a1a" stroke-width="0.12">BF-ST (TSSM)</text>
<rect x="454.48" y="192.3" width="5.35" height="42.4" fill="#96d2a7" stroke="none" stroke-width="0.8"/>
<rect x="459.83" y="184.4" width="5.35" height="50.3" fill="#87a8da" stroke="none" stroke-width="0.8"/>
<text x="459.05" y="190.9" font-size="5.8" font-weight="bold" fill="#1a1a1a" transform="rotate(-90 459.05 190.9)" stroke="#1a1a1a" stroke-width="0.12">BT-SBT-Nd (VPP)</text>
<rect x="466.8" y="200.64" width="5.35" height="34.06" fill="#96d2a7" stroke="none" stroke-width="0.8"/>
<rect x="472.15" y="188.71" width="5.35" height="45.99" fill="#87a8da" stroke="none" stroke-width="0.8"/>
<text x="471.37" y="199.24" font-size="5.8" font-weight="bold" fill="#1a1a1a" transform="rotate(-90 471.37 199.24)" stroke="#1a1a1a" stroke-width="0.12">BNBT-SLTT</text>
<rect x="479.12" y="140.71" width="5.35" height="93.99" fill="#96d2a7" stroke="none" stroke-width="0.8"/>
<rect x="484.47" y="169.6" width="5.35" height="65.1" fill="#87a8da" stroke="none" stroke-width="0.8"/>
<text x="483.69" y="180.2" font-size="5.8" font-weight="bold" fill="#1a1a1a" transform="rotate(-90 483.69 180.2)" stroke="#1a1a1a" stroke-width="0.12">BF-BT-SNT-NN</text>
<rect x="491.44" y="196.04" width="5.35" height="38.66" fill="#96d2a7" stroke="none" stroke-width="0.8"/>
<rect x="496.79" y="181.38" width="5.35" height="53.32" fill="#87a8da" stroke="none" stroke-width="0.8"/>
<text x="496.01" y="194.64" font-size="5.8" font-weight="bold" fill="#1a1a1a" transform="rotate(-90 496.01 194.64)" stroke="#1a1a1a" stroke-width="0.12">KNN-SLZ</text>
<rect x="503.76" y="187.85" width="5.35" height="46.85" fill="#96d2a7" stroke="none" stroke-width="0.8"/>
<rect x="509.11" y="191.73" width="5.35" height="42.97" fill="#87a8da" stroke="none" stroke-width="0.8"/>
<text x="508.33" y="186.45" font-size="5.8" font-weight="bold" fill="#1a1a1a" transform="rotate(-90 508.33 186.45)" stroke="#1a1a1a" stroke-width="0.12">KNN-H</text>
<rect x="516.08" y="198.92" width="5.35" height="35.78" fill="#96d2a7" stroke="none" stroke-width="0.8"/>
<rect x="521.43" y="206.24" width="5.35" height="28.46" fill="#87a8da" stroke="none" stroke-width="0.8"/>
<text x="520.65" y="197.52" font-size="5.8" font-weight="bold" fill="#1a1a1a" transform="rotate(-90 520.65 197.52)" stroke="#1a1a1a" stroke-width="0.12">BF-BT-NN</text>
<rect x="528.4" y="214.44" width="5.35" height="20.26" fill="#96d2a7" stroke="none" stroke-width="0.8"/>
<rect x="533.75" y="198.92" width="5.35" height="35.78" fill="#87a8da" stroke="none" stroke-width="0.8"/>
<text x="532.97" y="213.04" font-size="5.8" font-weight="bold" fill="#1a1a1a" transform="rotate(-90 532.97 213.04)" stroke="#1a1a1a" stroke-width="0.12">KNN-SZ</text>
<rect x="540.72" y="208.83" width="5.35" height="25.87" fill="#96d2a7" stroke="none" stroke-width="0.8"/>
<rect x="546.07" y="177.07" width="5.35" height="57.63" fill="#87a8da" stroke="none" stroke-width="0.8"/>
<text x="545.29" y="207.43" font-size="5.8" font-weight="bold" fill="#1a1a1a" transform="rotate(-90 545.29 207.43)" stroke="#1a1a1a" stroke-width="0.12">KNN-BZNT</text>
<rect x="553.04" y="214.72" width="5.35" height="19.98" fill="#96d2a7" stroke="none" stroke-width="0.8"/>
<rect x="558.39" y="202.94" width="5.35" height="31.76" fill="#87a8da" stroke="none" stroke-width="0.8"/>
<text x="557.61" y="213.32" font-size="5.8" font-weight="bold" fill="#1a1a1a" transform="rotate(-90 557.61 213.32)" stroke="#1a1a1a" stroke-width="0.12">BNST-NN(VPP)</text>
<rect x="565.36" y="224.93" width="5.35" height="9.77" fill="#96d2a7" stroke="none" stroke-width="0.8"/>
<rect x="570.71" y="202.94" width="5.35" height="31.76" fill="#87a8da" stroke="none" stroke-width="0.8"/>
<text x="569.93" y="223.53" font-size="5.8" font-weight="bold" fill="#1a1a1a" transform="rotate(-90 569.93 223.53)" stroke="#1a1a1a" stroke-width="0.12">BF-BT-CT</text>
<rect x="577.68" y="213.29" width="5.35" height="21.41" fill="#96d2a7" stroke="none" stroke-width="0.8"/>
<rect x="583.03" y="202.94" width="5.35" height="31.76" fill="#87a8da" stroke="none" stroke-width="0.8"/>
<text x="582.25" y="211.89" font-size="5.8" font-weight="bold" fill="#1a1a1a" transform="rotate(-90 582.25 211.89)" stroke="#1a1a1a" stroke-width="0.12">BST-SBT (VPP)</text>
<rect x="590" y="185.69" width="5.35" height="49.01" fill="#96d2a7" stroke="none" stroke-width="0.8"/>
<rect x="595.35" y="174.77" width="5.35" height="59.93" fill="#87a8da" stroke="none" stroke-width="0.8"/>
<text x="594.57" y="184.29" font-size="5.8" font-weight="bold" fill="#1a1a1a" transform="rotate(-90 594.57 184.29)" stroke="#1a1a1a" stroke-width="0.12">KNN-BZT (RRP)</text>
<rect x="602.32" y="228.66" width="5.35" height="6.04" fill="#96d2a7" stroke="none" stroke-width="0.8"/>
<rect x="607.67" y="220.33" width="5.35" height="14.37" fill="#87a8da" stroke="none" stroke-width="0.8"/>
<text x="606.89" y="227.26" font-size="5.8" font-weight="bold" fill="#1a1a1a" transform="rotate(-90 606.89 227.26)" stroke="#1a1a1a" stroke-width="0.12">KNN-LB</text>
<rect x="614.64" y="179.8" width="5.35" height="54.9" fill="#96d2a7" stroke="none" stroke-width="0.8"/>
<rect x="619.99" y="191.73" width="5.35" height="42.97" fill="#87a8da" stroke="none" stroke-width="0.8"/>
<text x="619.21" y="178.4" font-size="5.8" font-weight="bold" fill="#1a1a1a" transform="rotate(-90 619.21 178.4)" stroke="#1a1a1a" stroke-width="0.12">NN-BLT</text>
<rect x="626.96" y="187.27" width="5.35" height="47.43" fill="#96d2a7" stroke="none" stroke-width="0.8"/>
<rect x="632.31" y="191.73" width="5.35" height="42.97" fill="#87a8da" stroke="none" stroke-width="0.8"/>
<text x="631.53" y="185.87" font-size="5.8" font-weight="bold" fill="#1a1a1a" transform="rotate(-90 631.53 185.87)" stroke="#1a1a1a" stroke-width="0.12">BF-BHf-NT</text>
<rect x="639.28" y="158.68" width="5.35" height="76.02" fill="#96d2a7" stroke="none" stroke-width="0.8"/>
<rect x="644.63" y="169.88" width="5.35" height="64.82" fill="#87a8da" stroke="none" stroke-width="0.8"/>
<rect x="398.1" y="134.1" width="258.2" height="100.6" fill="none" stroke="#262626" stroke-width="1.35"/>
<line x1="398.1" y1="234.7" x2="400.1" y2="234.7" stroke="#262626" stroke-width="0.9"/>
<line x1="398.1" y1="220.33" x2="400.1" y2="220.33" stroke="#262626" stroke-width="0.9"/>
<line x1="398.1" y1="205.96" x2="400.1" y2="205.96" stroke="#262626" stroke-width="0.9"/>
<line x1="398.1" y1="191.59" x2="400.1" y2="191.59" stroke="#262626" stroke-width="0.9"/>
<line x1="398.1" y1="177.21" x2="400.1" y2="177.21" stroke="#262626" stroke-width="0.9"/>
<line x1="398.1" y1="162.84" x2="400.1" y2="162.84" stroke="#262626" stroke-width="0.9"/>
<line x1="398.1" y1="148.47" x2="400.1" y2="148.47" stroke="#262626" stroke-width="0.9"/>
<line x1="398.1" y1="134.1" x2="400.1" y2="134.1" stroke="#262626" stroke-width="0.9"/>
<line x1="398.1" y1="227.51" x2="399.3" y2="227.51" stroke="#262626" stroke-width="0.9"/>
<line x1="398.1" y1="213.14" x2="399.3" y2="213.14" stroke="#262626" stroke-width="0.9"/>
<line x1="398.1" y1="198.77" x2="399.3" y2="198.77" stroke="#262626" stroke-width="0.9"/>
<line x1="398.1" y1="184.4" x2="399.3" y2="184.4" stroke="#262626" stroke-width="0.9"/>
<line x1="398.1" y1="170.03" x2="399.3" y2="170.03" stroke="#262626" stroke-width="0.9"/>
<line x1="398.1" y1="155.66" x2="399.3" y2="155.66" stroke="#262626" stroke-width="0.9"/>
<line x1="398.1" y1="141.29" x2="399.3" y2="141.29" stroke="#262626" stroke-width="0.9"/>
<text x="396.1" y="237.04" font-size="6.5" text-anchor="end" font-weight="bold" fill="#1a1a1a" stroke="#1a1a1a" stroke-width="0.22">0</text>
<text x="396.1" y="222.67" font-size="6.5" text-anchor="end" font-weight="bold" fill="#1a1a1a" stroke="#1a1a1a" stroke-width="0.22">1</text>
<text x="396.1" y="208.3" font-size="6.5" text-anchor="end" font-weight="bold" fill="#1a1a1a" stroke="#1a1a1a" stroke-width="0.22">2</text>
<text x="396.1" y="193.93" font-size="6.5" text-anchor="end" font-weight="bold" fill="#1a1a1a" stroke="#1a1a1a" stroke-width="0.22">3</text>
<text x="396.1" y="179.55" font-size="6.5" text-anchor="end" font-weight="bold" fill="#1a1a1a" stroke="#1a1a1a" stroke-width="0.22">4</text>
<text x="396.1" y="165.18" font-size="6.5" text-anchor="end" font-weight="bold" fill="#1a1a1a" stroke="#1a1a1a" stroke-width="0.22">5</text>
<text x="396.1" y="150.81" font-size="6.5" text-anchor="end" font-weight="bold" fill="#1a1a1a" stroke="#1a1a1a" stroke-width="0.22">6</text>
<text x="396.1" y="136.44" font-size="6.5" text-anchor="end" font-weight="bold" fill="#1a1a1a" stroke="#1a1a1a" stroke-width="0.22">7</text>
<line x1="656.3" y1="234.7" x2="654.3" y2="234.7" stroke="#262626" stroke-width="0.9"/>
<line x1="656.3" y1="220.33" x2="654.3" y2="220.33" stroke="#262626" stroke-width="0.9"/>
<line x1="656.3" y1="205.96" x2="654.3" y2="205.96" stroke="#262626" stroke-width="0.9"/>
<line x1="656.3" y1="191.59" x2="654.3" y2="191.59" stroke="#262626" stroke-width="0.9"/>
<line x1="656.3" y1="177.21" x2="654.3" y2="177.21" stroke="#262626" stroke-width="0.9"/>
<line x1="656.3" y1="162.84" x2="654.3" y2="162.84" stroke="#262626" stroke-width="0.9"/>
<line x1="656.3" y1="148.47" x2="654.3" y2="148.47" stroke="#262626" stroke-width="0.9"/>
<line x1="656.3" y1="134.1" x2="654.3" y2="134.1" stroke="#262626" stroke-width="0.9"/>
<line x1="656.3" y1="227.51" x2="655.1" y2="227.51" stroke="#262626" stroke-width="0.9"/>
<line x1="656.3" y1="213.14" x2="655.1" y2="213.14" stroke="#262626" stroke-width="0.9"/>
<line x1="656.3" y1="198.77" x2="655.1" y2="198.77" stroke="#262626" stroke-width="0.9"/>
<line x1="656.3" y1="184.4" x2="655.1" y2="184.4" stroke="#262626" stroke-width="0.9"/>
<line x1="656.3" y1="170.03" x2="655.1" y2="170.03" stroke="#262626" stroke-width="0.9"/>
<line x1="656.3" y1="155.66" x2="655.1" y2="155.66" stroke="#262626" stroke-width="0.9"/>
<line x1="656.3" y1="141.29" x2="655.1" y2="141.29" stroke="#262626" stroke-width="0.9"/>
<text x="658.3" y="237.11" font-size="6.7" text-anchor="start" font-weight="bold" fill="#1a1a1a" stroke="#1a1a1a" stroke-width="0.22">0</text>
<text x="658.3" y="222.74" font-size="6.7" text-anchor="start" font-weight="bold" fill="#1a1a1a" stroke="#1a1a1a" stroke-width="0.22">100</text>
<text x="658.3" y="208.37" font-size="6.7" text-anchor="start" font-weight="bold" fill="#1a1a1a" stroke="#1a1a1a" stroke-width="0.22">200</text>
<text x="658.3" y="194" font-size="6.7" text-anchor="start" font-weight="bold" fill="#1a1a1a" stroke="#1a1a1a" stroke-width="0.22">300</text>
<text x="658.3" y="179.63" font-size="6.7" text-anchor="start" font-weight="bold" fill="#1a1a1a" stroke="#1a1a1a" stroke-width="0.22">400</text>
<text x="658.3" y="165.25" font-size="6.7" text-anchor="start" font-weight="bold" fill="#1a1a1a" stroke="#1a1a1a" stroke-width="0.22">500</text>
<text x="658.3" y="150.88" font-size="6.7" text-anchor="start" font-weight="bold" fill="#1a1a1a" stroke="#1a1a1a" stroke-width="0.22">600</text>
<text x="658.3" y="136.51" font-size="6.7" text-anchor="start" font-weight="bold" fill="#1a1a1a" stroke="#1a1a1a" stroke-width="0.22">700</text>
<rect x="638.6" y="143.3" width="12.9" height="91" fill="none" stroke="#ef4a4a" stroke-width="0.75" stroke-dasharray="1.6 1"/>
<text x="640.9" y="140.4" font-size="6.4" text-anchor="middle" font-weight="normal" fill="#ef4a4a" stroke="#ef4a4a" stroke-width="0.08">This work</text>
<rect x="508" y="137.3" width="9.9" height="4.9" fill="#96d2a7" stroke="none" stroke-width="0.8"/>
<rect x="535.3" y="137.3" width="9.6" height="4.9" fill="#87a8da" stroke="none" stroke-width="0.8"/>
<text x="520" y="141.9" font-size="6.3" font-weight="bold" fill="#1a1a1a" stroke="#1a1a1a" stroke-width="0.12"><tspan font-style="italic">W</tspan><tspan font-size="5.0" dy="1.4">d</tspan></text>
<text x="546.6" y="141.9" font-size="6.3" font-weight="bold" fill="#1a1a1a" stroke="#1a1a1a" stroke-width="0.12"><tspan font-style="italic">E</tspan><tspan font-size="5.0" dy="1.4">test</tspan></text>
<text x="527" y="246.6" font-size="8.7" text-anchor="middle" font-weight="bold" fill="#1a1a1a" stroke="#1a1a1a" stroke-width="0.22">Lead-free systems</text>
<text x="387.6" y="185" font-size="8.4" font-weight="bold" fill="#1a1a1a" text-anchor="middle" transform="rotate(-90 387.6 185)" stroke="#1a1a1a" stroke-width="0.22"><tspan font-style="italic">W</tspan><tspan font-size="5.6" dy="1.6">d</tspan><tspan dy="-1.6"> (J·cm</tspan><tspan font-size="5.6" dy="-3">−3</tspan><tspan dy="3">)</tspan></text>
<text x="680.8" y="185" font-size="8.4" font-weight="bold" fill="#1a1a1a" text-anchor="middle" transform="rotate(-90 680.8 185)" stroke="#1a1a1a" stroke-width="0.22"><tspan font-style="italic">E</tspan><tspan font-size="5.6" dy="1.6">test</tspan><tspan dy="-1.6"> (kV·cm</tspan><tspan font-size="5.6" dy="-3">−1</tspan><tspan dy="3">)</tspan></text>
</svg>
</body></html>
